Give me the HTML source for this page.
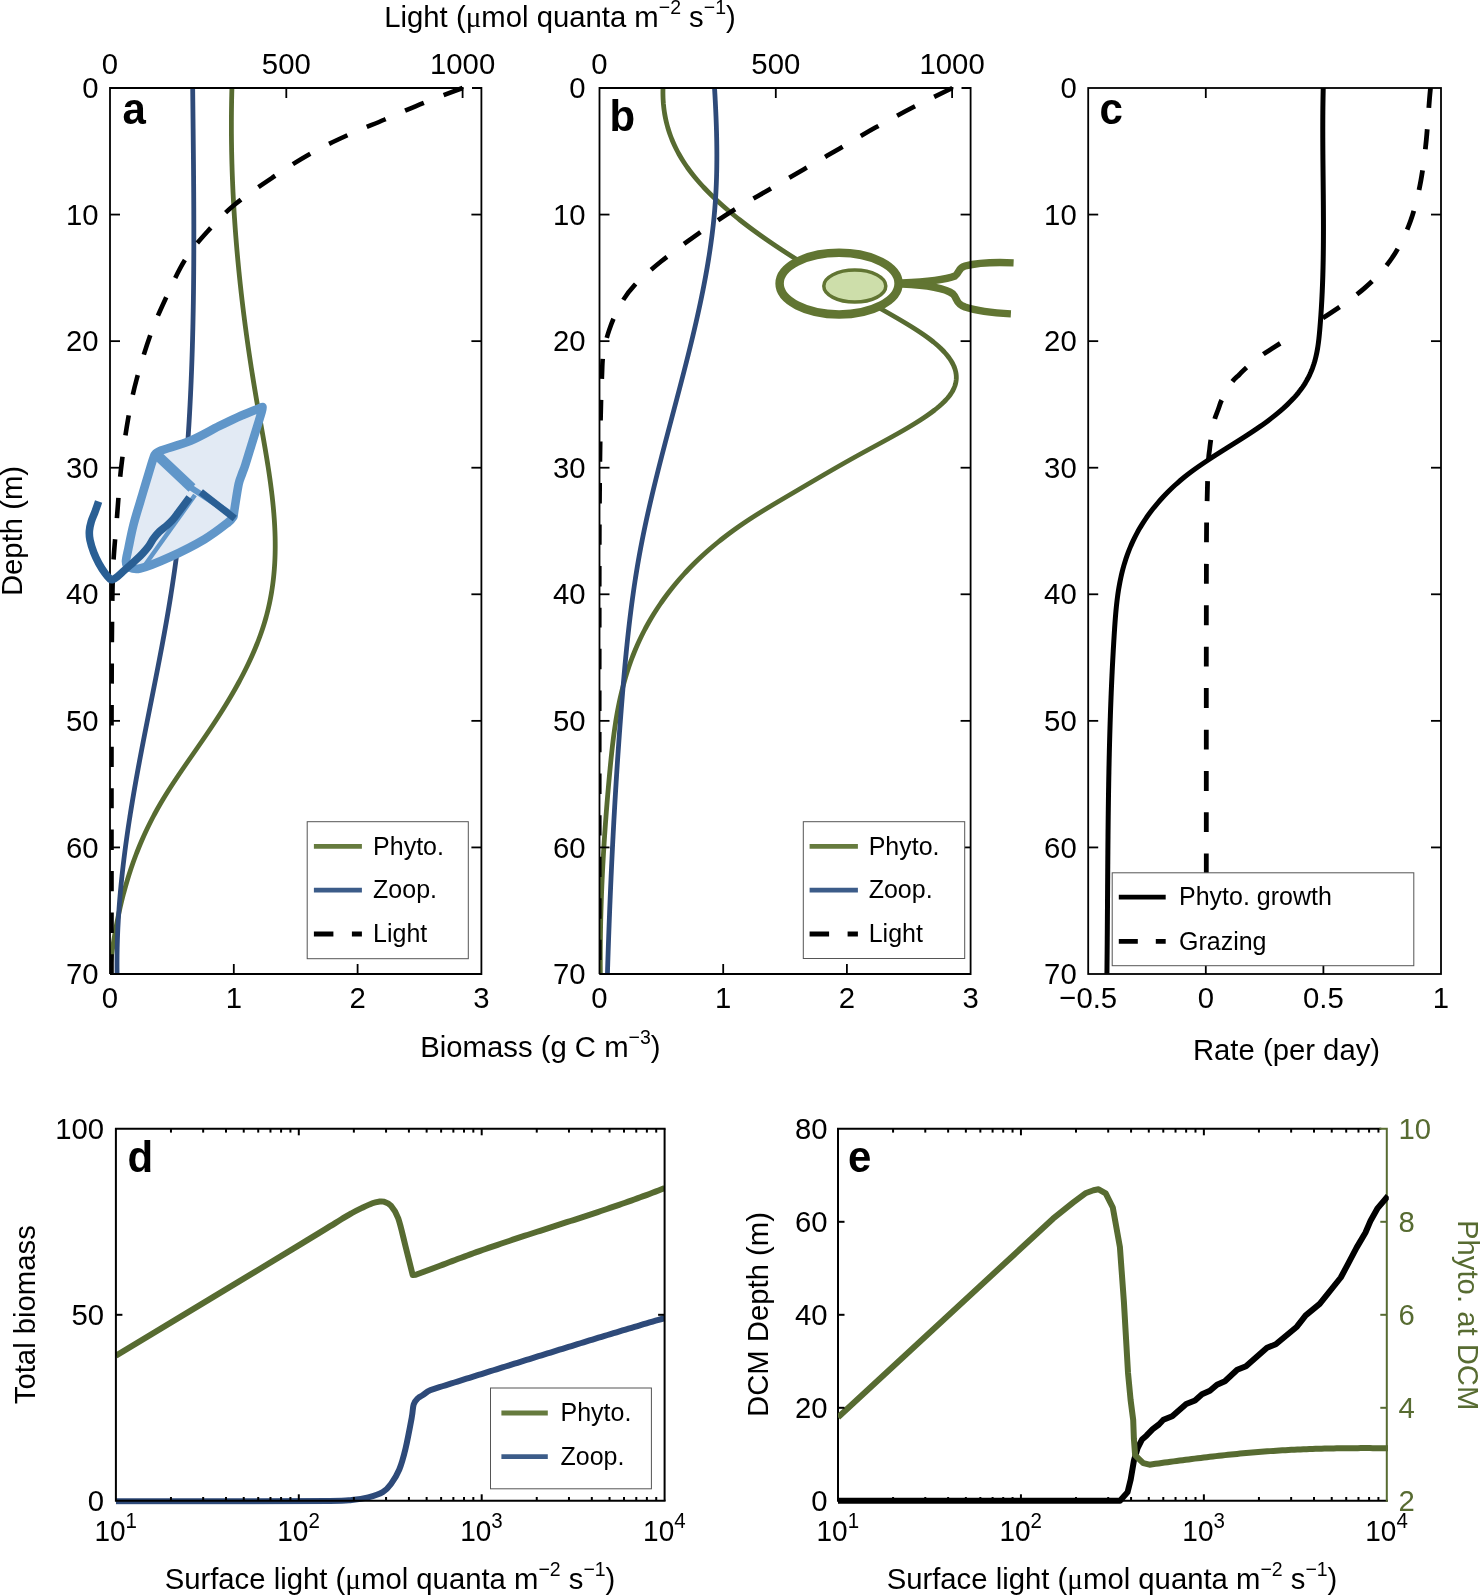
<!DOCTYPE html><html><head><meta charset="utf-8"><style>html,body{margin:0;padding:0;background:#fff;width:1480px;height:1596px;overflow:hidden}svg{display:block;will-change:transform}</style></head><body><svg width="1480" height="1596" viewBox="0 0 1480 1596" font-family="Liberation Sans, sans-serif">
<rect width="1480" height="1596" fill="#fff"/>
<defs>
<clipPath id="ca"><rect x="110.0" y="85.0" width="371.4" height="889.0"/></clipPath>
<clipPath id="cb"><rect x="599.5" y="85.0" width="371.1" height="889.0"/></clipPath>
<clipPath id="cc"><rect x="1088.2" y="85.0" width="352.79999999999995" height="889.0"/></clipPath>
</defs>
<g clip-path="url(#ca)">
<path d="M231.92,88.00 L231.87,90.00 L231.81,92.00 L231.76,94.00 L231.72,96.00 L231.67,98.00 L231.63,100.00 L231.59,102.00 L231.56,104.00 L231.53,106.00 L231.50,108.00 L231.48,110.00 L231.45,112.00 L231.44,114.00 L231.42,116.00 L231.41,118.00 L231.40,120.00 L231.39,122.00 L231.39,124.00 L231.39,126.00 L231.39,128.00 L231.39,130.00 L231.40,132.00 L231.41,134.00 L231.43,136.00 L231.45,138.00 L231.47,140.00 L231.49,142.00 L231.52,144.00 L231.55,146.00 L231.58,148.00 L231.61,150.00 L231.65,152.00 L231.69,154.00 L231.74,156.00 L231.78,158.00 L231.83,160.00 L231.88,162.00 L231.94,164.00 L232.00,166.00 L232.06,168.00 L232.12,170.00 L232.19,172.00 L232.26,174.00 L232.33,176.00 L232.41,178.00 L232.48,180.00 L232.57,182.00 L232.65,184.00 L232.74,186.00 L232.82,188.00 L232.92,190.00 L233.01,192.00 L233.11,194.00 L233.21,196.00 L233.31,198.00 L233.42,200.00 L233.53,202.00 L233.64,204.00 L233.75,206.00 L233.87,208.00 L233.99,210.00 L234.11,212.00 L234.24,214.00 L234.36,216.00 L234.49,218.00 L234.63,220.00 L234.76,222.00 L234.90,224.00 L235.04,226.00 L235.18,228.00 L235.33,230.00 L235.48,232.00 L235.63,234.00 L235.78,236.00 L235.94,238.00 L236.10,240.00 L236.26,242.00 L236.43,244.00 L236.59,246.00 L236.76,248.00 L236.93,250.00 L237.11,252.00 L237.29,254.00 L237.47,256.00 L237.65,258.00 L237.83,260.00 L238.02,262.00 L238.21,264.00 L238.40,266.00 L238.60,268.00 L238.79,270.00 L238.99,272.00 L239.20,274.00 L239.40,276.00 L239.61,278.00 L239.82,280.00 L240.03,282.00 L240.24,284.00 L240.46,286.00 L240.68,288.00 L240.90,290.00 L241.12,292.00 L241.35,294.00 L241.58,296.00 L241.81,298.00 L242.04,300.00 L242.28,302.00 L242.52,304.00 L242.76,306.00 L243.00,308.00 L243.25,310.00 L243.49,312.00 L243.74,314.00 L244.00,316.00 L244.25,318.00 L244.51,320.00 L244.77,322.00 L245.03,324.00 L245.29,326.00 L245.56,328.00 L245.83,330.00 L246.10,332.00 L246.37,334.00 L246.65,336.00 L246.92,338.00 L247.20,340.00 L247.48,342.00 L247.77,344.00 L248.05,346.00 L248.34,348.00 L248.63,350.00 L248.93,352.00 L249.22,354.00 L249.52,356.00 L249.82,358.00 L250.12,360.00 L250.42,362.00 L250.73,364.00 L251.03,366.00 L251.34,368.00 L251.66,370.00 L251.97,372.00 L252.29,374.00 L252.61,376.00 L252.93,378.00 L253.25,380.00 L253.57,382.00 L253.90,384.00 L254.23,386.00 L254.56,388.00 L254.89,390.00 L255.23,392.00 L255.56,394.00 L255.90,396.00 L256.24,398.00 L256.58,400.00 L256.93,402.00 L257.28,404.00 L257.62,406.00 L257.98,408.00 L258.33,410.00 L258.68,412.00 L259.03,414.00 L259.39,416.00 L259.74,418.00 L260.10,420.00 L260.46,422.00 L260.81,424.00 L261.17,426.00 L261.52,428.00 L261.88,430.00 L262.23,432.00 L262.59,434.00 L262.94,436.00 L263.29,438.00 L263.64,440.00 L263.99,442.00 L264.34,444.00 L264.68,446.00 L265.03,448.00 L265.37,450.00 L265.70,452.00 L266.04,454.00 L266.37,456.00 L266.70,458.00 L267.02,460.00 L267.35,462.00 L267.67,464.00 L267.98,466.00 L268.29,468.00 L268.60,470.00 L268.90,472.00 L269.20,474.00 L269.49,476.00 L269.78,478.00 L270.06,480.00 L270.33,482.00 L270.61,484.00 L270.87,486.00 L271.13,488.00 L271.38,490.00 L271.63,492.00 L271.87,494.00 L272.11,496.00 L272.33,498.00 L272.55,500.00 L272.77,502.00 L272.97,504.00 L273.17,506.00 L273.36,508.00 L273.54,510.00 L273.71,512.00 L273.88,514.00 L274.03,516.00 L274.18,518.00 L274.32,520.00 L274.45,522.00 L274.57,524.00 L274.68,526.00 L274.78,528.00 L274.87,530.00 L274.95,532.00 L275.02,534.00 L275.08,536.00 L275.13,538.00 L275.16,540.00 L275.19,542.00 L275.20,544.00 L275.21,546.00 L275.20,548.00 L275.18,550.00 L275.14,552.00 L275.10,554.00 L275.04,556.00 L274.97,558.00 L274.89,560.00 L274.79,562.00 L274.68,564.00 L274.55,566.00 L274.41,568.00 L274.26,570.00 L274.09,572.00 L273.91,574.00 L273.72,576.00 L273.51,578.00 L273.28,580.00 L273.04,582.00 L272.78,584.00 L272.51,586.00 L272.22,588.00 L271.92,590.00 L271.59,592.00 L271.26,594.00 L270.90,596.00 L270.53,598.00 L270.14,600.00 L269.74,602.00 L269.32,604.00 L268.87,606.00 L268.42,608.00 L267.94,610.00 L267.44,612.00 L266.93,614.00 L266.40,616.00 L265.85,618.00 L265.28,620.00 L264.69,622.00 L264.08,624.00 L263.45,626.00 L262.80,628.00 L262.14,630.00 L261.45,632.00 L260.75,634.00 L260.03,636.00 L259.29,638.00 L258.54,640.00 L257.77,642.00 L256.98,644.00 L256.17,646.00 L255.35,648.00 L254.51,650.00 L253.65,652.00 L252.78,654.00 L251.89,656.00 L250.99,658.00 L250.07,660.00 L249.13,662.00 L248.18,664.00 L247.22,666.00 L246.24,668.00 L245.24,670.00 L244.23,672.00 L243.21,674.00 L242.17,676.00 L241.12,678.00 L240.06,680.00 L238.98,682.00 L237.89,684.00 L236.78,686.00 L235.67,688.00 L234.54,690.00 L233.39,692.00 L232.24,694.00 L231.07,696.00 L229.89,698.00 L228.70,700.00 L227.50,702.00 L226.29,704.00 L225.06,706.00 L223.82,708.00 L222.58,710.00 L221.32,712.00 L220.05,714.00 L218.77,716.00 L217.48,718.00 L216.18,720.00 L214.87,722.00 L213.56,724.00 L212.23,726.00 L210.90,728.00 L209.56,730.00 L208.21,732.00 L206.86,734.00 L205.50,736.00 L204.13,738.00 L202.76,740.00 L201.38,742.00 L200.00,744.00 L198.62,746.00 L197.23,748.00 L195.85,750.00 L194.46,752.00 L193.07,754.00 L191.68,756.00 L190.29,758.00 L188.90,760.00 L187.52,762.00 L186.14,764.00 L184.76,766.00 L183.39,768.00 L182.02,770.00 L180.66,772.00 L179.30,774.00 L177.96,776.00 L176.62,778.00 L175.29,780.00 L173.96,782.00 L172.65,784.00 L171.35,786.00 L170.06,788.00 L168.78,790.00 L167.52,792.00 L166.27,794.00 L165.03,796.00 L163.81,798.00 L162.60,800.00 L161.41,802.00 L160.24,804.00 L159.08,806.00 L157.94,808.00 L156.82,810.00 L155.72,812.00 L154.63,814.00 L153.57,816.00 L152.51,818.00 L151.48,820.00 L150.46,822.00 L149.46,824.00 L148.47,826.00 L147.50,828.00 L146.54,830.00 L145.61,832.00 L144.68,834.00 L143.77,836.00 L142.88,838.00 L142.00,840.00 L141.14,842.00 L140.29,844.00 L139.46,846.00 L138.64,848.00 L137.84,850.00 L137.05,852.00 L136.27,854.00 L135.51,856.00 L134.76,858.00 L134.02,860.00 L133.30,862.00 L132.59,864.00 L131.90,866.00 L131.21,868.00 L130.54,870.00 L129.89,872.00 L129.24,874.00 L128.61,876.00 L127.99,878.00 L127.38,880.00 L126.78,882.00 L126.20,884.00 L125.62,886.00 L125.06,888.00 L124.51,890.00 L123.97,892.00 L123.44,894.00 L122.92,896.00 L122.41,898.00 L121.91,900.00 L121.42,902.00 L120.94,904.00 L120.47,906.00 L120.01,908.00 L119.57,910.00 L119.13,912.00 L118.70,914.00 L118.27,916.00 L117.86,918.00 L117.46,920.00 L117.06,922.00 L116.68,924.00 L116.30,926.00 L115.93,928.00 L115.56,930.00 L115.21,932.00 L114.86,934.00 L114.52,936.00 L114.19,938.00 L113.87,940.00 L113.55,942.00 L113.24,944.00 L112.93,946.00 L112.64,948.00 L112.34,950.00 L112.06,952.00 L111.78,954.00 L111.51,956.00 L111.24,958.00 L110.98,960.00 L110.72,962.00 L110.47,964.00 L110.22,966.00 L109.98,968.00 L109.75,970.00 L109.52,972.00 L109.29,974.00" fill="none" stroke="#576b31" stroke-width="4.8" stroke-linejoin="round" />
<path d="M192.67,88.00 L192.70,90.00 L192.72,92.00 L192.74,94.00 L192.76,96.00 L192.78,98.00 L192.80,100.00 L192.83,102.00 L192.85,104.00 L192.87,106.00 L192.89,108.00 L192.92,110.00 L192.94,112.00 L192.96,114.00 L192.98,116.00 L193.00,118.00 L193.03,120.00 L193.05,122.00 L193.07,124.00 L193.09,126.00 L193.11,128.00 L193.14,130.00 L193.16,132.00 L193.18,134.00 L193.20,136.00 L193.22,138.00 L193.24,140.00 L193.26,142.00 L193.28,144.00 L193.30,146.00 L193.32,148.00 L193.34,150.00 L193.36,152.00 L193.38,154.00 L193.40,156.00 L193.42,158.00 L193.44,160.00 L193.46,162.00 L193.48,164.00 L193.50,166.00 L193.51,168.00 L193.53,170.00 L193.55,172.00 L193.56,174.00 L193.58,176.00 L193.60,178.00 L193.61,180.00 L193.63,182.00 L193.64,184.00 L193.65,186.00 L193.67,188.00 L193.68,190.00 L193.69,192.00 L193.71,194.00 L193.72,196.00 L193.73,198.00 L193.74,200.00 L193.75,202.00 L193.76,204.00 L193.77,206.00 L193.78,208.00 L193.79,210.00 L193.79,212.00 L193.80,214.00 L193.81,216.00 L193.81,218.00 L193.82,220.00 L193.82,222.00 L193.83,224.00 L193.83,226.00 L193.83,228.00 L193.83,230.00 L193.83,232.00 L193.84,234.00 L193.83,236.00 L193.83,238.00 L193.83,240.00 L193.83,242.00 L193.83,244.00 L193.82,246.00 L193.82,248.00 L193.81,250.00 L193.81,252.00 L193.80,254.00 L193.79,256.00 L193.78,258.00 L193.77,260.00 L193.76,262.00 L193.75,264.00 L193.74,266.00 L193.72,268.00 L193.71,270.00 L193.69,272.00 L193.68,274.00 L193.66,276.00 L193.64,278.00 L193.62,280.00 L193.60,282.00 L193.58,284.00 L193.56,286.00 L193.54,288.00 L193.51,290.00 L193.49,292.00 L193.46,294.00 L193.43,296.00 L193.41,298.00 L193.38,300.00 L193.35,302.00 L193.32,304.00 L193.28,306.00 L193.25,308.00 L193.21,310.00 L193.18,312.00 L193.14,314.00 L193.10,316.00 L193.06,318.00 L193.02,320.00 L192.98,322.00 L192.94,324.00 L192.89,326.00 L192.85,328.00 L192.80,330.00 L192.75,332.00 L192.70,334.00 L192.65,336.00 L192.60,338.00 L192.55,340.00 L192.49,342.00 L192.43,344.00 L192.38,346.00 L192.32,348.00 L192.26,350.00 L192.20,352.00 L192.13,354.00 L192.07,356.00 L192.00,358.00 L191.94,360.00 L191.87,362.00 L191.80,364.00 L191.72,366.00 L191.65,368.00 L191.58,370.00 L191.50,372.00 L191.42,374.00 L191.34,376.00 L191.26,378.00 L191.18,380.00 L191.10,382.00 L191.01,384.00 L190.93,386.00 L190.84,388.00 L190.75,390.00 L190.65,392.00 L190.56,394.00 L190.47,396.00 L190.37,398.00 L190.27,400.00 L190.17,402.00 L190.07,404.00 L189.97,406.00 L189.86,408.00 L189.75,410.00 L189.65,412.00 L189.54,414.00 L189.42,416.00 L189.31,418.00 L189.19,420.00 L189.08,422.00 L188.96,424.00 L188.84,426.00 L188.71,428.00 L188.59,430.00 L188.46,432.00 L188.33,434.00 L188.20,436.00 L188.07,438.00 L187.94,440.00 L187.80,442.00 L187.66,444.00 L187.52,446.00 L187.38,448.00 L187.24,450.00 L187.09,452.00 L186.95,454.00 L186.80,456.00 L186.64,458.00 L186.49,460.00 L186.34,462.00 L186.18,464.00 L186.02,466.00 L185.86,468.00 L185.69,470.00 L185.53,472.00 L185.36,474.00 L185.19,476.00 L185.02,478.00 L184.84,480.00 L184.67,482.00 L184.49,484.00 L184.31,486.00 L184.12,488.00 L183.94,490.00 L183.75,492.00 L183.56,494.00 L183.37,496.00 L183.18,498.00 L182.98,500.00 L182.78,502.00 L182.58,504.00 L182.38,506.00 L182.17,508.00 L181.96,510.00 L181.75,512.00 L181.54,514.00 L181.33,516.00 L181.11,518.00 L180.89,520.00 L180.67,522.00 L180.45,524.00 L180.22,526.00 L179.99,528.00 L179.76,530.00 L179.53,532.00 L179.29,534.00 L179.05,536.00 L178.81,538.00 L178.57,540.00 L178.32,542.00 L178.07,544.00 L177.82,546.00 L177.57,548.00 L177.31,550.00 L177.05,552.00 L176.79,554.00 L176.53,556.00 L176.26,558.00 L175.99,560.00 L175.72,562.00 L175.45,564.00 L175.17,566.00 L174.89,568.00 L174.61,570.00 L174.33,572.00 L174.04,574.00 L173.75,576.00 L173.46,578.00 L173.16,580.00 L172.86,582.00 L172.56,584.00 L172.26,586.00 L171.95,588.00 L171.64,590.00 L171.33,592.00 L171.02,594.00 L170.70,596.00 L170.38,598.00 L170.06,600.00 L169.73,602.00 L169.40,604.00 L169.07,606.00 L168.74,608.00 L168.40,610.00 L168.06,612.00 L167.72,614.00 L167.37,616.00 L167.03,618.00 L166.68,620.00 L166.33,622.00 L165.97,624.00 L165.62,626.00 L165.26,628.00 L164.90,630.00 L164.54,632.00 L164.18,634.00 L163.81,636.00 L163.44,638.00 L163.07,640.00 L162.70,642.00 L162.33,644.00 L161.96,646.00 L161.58,648.00 L161.20,650.00 L160.82,652.00 L160.44,654.00 L160.06,656.00 L159.68,658.00 L159.30,660.00 L158.91,662.00 L158.52,664.00 L158.14,666.00 L157.75,668.00 L157.36,670.00 L156.97,672.00 L156.58,674.00 L156.18,676.00 L155.79,678.00 L155.40,680.00 L155.00,682.00 L154.61,684.00 L154.21,686.00 L153.82,688.00 L153.42,690.00 L153.03,692.00 L152.63,694.00 L152.23,696.00 L151.83,698.00 L151.44,700.00 L151.04,702.00 L150.64,704.00 L150.24,706.00 L149.85,708.00 L149.45,710.00 L149.05,712.00 L148.66,714.00 L148.26,716.00 L147.86,718.00 L147.47,720.00 L147.07,722.00 L146.68,724.00 L146.28,726.00 L145.89,728.00 L145.50,730.00 L145.10,732.00 L144.71,734.00 L144.32,736.00 L143.93,738.00 L143.54,740.00 L143.16,742.00 L142.77,744.00 L142.38,746.00 L142.00,748.00 L141.62,750.00 L141.24,752.00 L140.86,754.00 L140.48,756.00 L140.10,758.00 L139.72,760.00 L139.35,762.00 L138.98,764.00 L138.60,766.00 L138.23,768.00 L137.87,770.00 L137.50,772.00 L137.14,774.00 L136.77,776.00 L136.41,778.00 L136.06,780.00 L135.70,782.00 L135.35,784.00 L134.99,786.00 L134.64,788.00 L134.30,790.00 L133.95,792.00 L133.61,794.00 L133.27,796.00 L132.93,798.00 L132.59,800.00 L132.26,802.00 L131.93,804.00 L131.60,806.00 L131.27,808.00 L130.95,810.00 L130.62,812.00 L130.31,814.00 L129.99,816.00 L129.68,818.00 L129.37,820.00 L129.06,822.00 L128.75,824.00 L128.45,826.00 L128.15,828.00 L127.86,830.00 L127.57,832.00 L127.28,834.00 L126.99,836.00 L126.71,838.00 L126.43,840.00 L126.15,842.00 L125.87,844.00 L125.60,846.00 L125.34,848.00 L125.07,850.00 L124.81,852.00 L124.56,854.00 L124.30,856.00 L124.05,858.00 L123.81,860.00 L123.57,862.00 L123.33,864.00 L123.09,866.00 L122.86,868.00 L122.63,870.00 L122.41,872.00 L122.19,874.00 L121.98,876.00 L121.76,878.00 L121.56,880.00 L121.35,882.00 L121.15,884.00 L120.96,886.00 L120.77,888.00 L120.58,890.00 L120.40,892.00 L120.22,894.00 L120.04,896.00 L119.87,898.00 L119.71,900.00 L119.55,902.00 L119.39,904.00 L119.24,906.00 L119.09,908.00 L118.95,910.00 L118.81,912.00 L118.68,914.00 L118.55,916.00 L118.43,918.00 L118.31,920.00 L118.20,922.00 L118.09,924.00 L117.98,926.00 L117.88,928.00 L117.79,930.00 L117.70,932.00 L117.62,934.00 L117.54,936.00 L117.47,938.00 L117.40,940.00 L117.34,942.00 L117.28,944.00 L117.23,946.00 L117.18,948.00 L117.14,950.00 L117.10,952.00 L117.07,954.00 L117.05,956.00 L117.03,958.00 L117.02,960.00 L117.01,962.00 L117.01,964.00 L117.01,966.00 L117.02,968.00 L117.04,970.00 L117.06,972.00 L117.09,974.00" fill="none" stroke="#2e4a79" stroke-width="4.8" stroke-linejoin="round" />
<path d="M462.60,88.00 C456.22,90.43 437.27,97.35 424.30,102.60 C411.33,107.85 397.52,114.10 384.80,119.50 C372.08,124.90 360.22,129.42 348.00,135.00 C335.78,140.58 323.70,146.17 311.50,153.00 C299.30,159.83 287.48,167.50 274.80,176.00 C262.12,184.50 246.70,194.67 235.40,204.00 C224.10,213.33 215.47,222.58 207.00,232.00 C198.53,241.42 191.60,249.17 184.60,260.50 C177.60,271.83 170.63,287.78 165.00,300.00 C159.37,312.22 155.52,320.63 150.80,333.80 C146.08,346.97 140.47,364.90 136.70,379.00 C132.93,393.10 130.82,403.40 128.20,418.40 C125.58,433.40 122.87,452.57 121.00,469.00 C119.13,485.43 118.23,502.00 117.00,517.00 C115.77,532.00 114.35,546.83 113.60,559.00 C112.85,571.17 112.80,574.83 112.50,590.00 C112.20,605.17 111.97,623.33 111.80,650.00 C111.63,676.67 111.55,716.67 111.50,750.00 C111.45,783.33 111.50,812.72 111.50,850.00 C111.50,887.28 111.50,953.08 111.50,973.70" fill="none" stroke="#000" stroke-width="4.6" stroke-linejoin="round" stroke-dasharray="20.3 21.2" />
</g>
<g clip-path="url(#cb)">
<path d="M663.00,88.00 L662.95,90.00 L662.93,92.00 L662.94,94.00 L662.98,96.00 L663.04,98.00 L663.14,100.00 L663.27,102.00 L663.42,104.00 L663.62,106.00 L663.84,108.00 L664.09,110.00 L664.38,112.00 L664.70,114.00 L665.06,116.00 L665.45,118.00 L665.87,120.00 L666.33,122.00 L666.83,124.00 L667.36,126.00 L667.93,128.00 L668.54,130.00 L669.18,132.00 L669.86,134.00 L670.58,136.00 L671.35,138.00 L672.14,140.00 L672.98,142.00 L673.87,144.00 L674.79,146.00 L675.75,148.00 L676.75,150.00 L677.80,152.00 L678.89,154.00 L680.03,156.00 L681.20,158.00 L682.42,160.00 L683.69,162.00 L685.00,164.00 L686.36,166.00 L687.76,168.00 L689.21,170.00 L690.71,172.00 L692.26,174.00 L693.85,176.00 L695.49,178.00 L697.17,180.00 L698.90,182.00 L700.68,184.00 L702.50,186.00 L704.36,188.00 L706.27,190.00 L708.23,192.00 L710.23,194.00 L712.27,196.00 L714.35,198.00 L716.47,200.00 L718.64,202.00 L720.84,204.00 L723.09,206.00 L725.38,208.00 L727.71,210.00 L730.07,212.00 L732.48,214.00 L734.92,216.00 L737.40,218.00 L739.92,220.00 L742.48,222.00 L745.07,224.00 L747.70,226.00 L750.37,228.00 L753.07,230.00 L755.81,232.00 L758.58,234.00 L761.38,236.00 L764.22,238.00 L767.09,240.00 L769.99,242.00 L772.93,244.00 L775.90,246.00 L778.90,248.00 L781.93,250.00 L784.99,252.00 L788.08,254.00 L791.20,256.00 L794.35,258.00 L797.53,260.00 L800.74,262.00 L803.97,264.00 L807.23,266.00 L810.51,268.00 L813.82,270.00 L817.14,272.00 L820.49,274.00 L823.86,276.00 L827.25,278.00 L830.65,280.00 L834.07,282.00 L837.50,284.00 L840.95,286.00 L844.41,288.00 L847.88,290.00 L851.36,292.00 L854.85,294.00 L858.35,296.00 L861.85,298.00 L865.36,300.00 L868.87,302.00 L872.38,304.00 L875.90,306.00 L879.42,308.00 L882.94,310.00 L886.45,312.00 L889.95,314.00 L893.43,316.00 L896.89,318.00 L900.31,320.00 L903.69,322.00 L907.02,324.00 L910.29,326.00 L913.50,328.00 L916.63,330.00 L919.68,332.00 L922.65,334.00 L925.52,336.00 L928.28,338.00 L930.93,340.00 L933.47,342.00 L935.88,344.00 L938.17,346.00 L940.34,348.00 L942.37,350.00 L944.28,352.00 L946.05,354.00 L947.69,356.00 L949.20,358.00 L950.57,360.00 L951.79,362.00 L952.88,364.00 L953.82,366.00 L954.62,368.00 L955.26,370.00 L955.76,372.00 L956.10,374.00 L956.29,376.00 L956.33,378.00 L956.20,380.00 L955.92,382.00 L955.47,384.00 L954.86,386.00 L954.08,388.00 L953.13,390.00 L952.01,392.00 L950.72,394.00 L949.26,396.00 L947.62,398.00 L945.83,400.00 L943.87,402.00 L941.77,404.00 L939.53,406.00 L937.15,408.00 L934.65,410.00 L932.02,412.00 L929.27,414.00 L926.42,416.00 L923.46,418.00 L920.41,420.00 L917.27,422.00 L914.05,424.00 L910.75,426.00 L907.39,428.00 L903.96,430.00 L900.48,432.00 L896.95,434.00 L893.38,436.00 L889.77,438.00 L886.13,440.00 L882.48,442.00 L878.81,444.00 L875.13,446.00 L871.44,448.00 L867.77,450.00 L864.10,452.00 L860.46,454.00 L856.83,456.00 L853.24,458.00 L849.66,460.00 L846.11,462.00 L842.59,464.00 L839.08,466.00 L835.58,468.00 L832.11,470.00 L828.65,472.00 L825.20,474.00 L821.77,476.00 L818.34,478.00 L814.93,480.00 L811.52,482.00 L808.12,484.00 L804.72,486.00 L801.32,488.00 L797.93,490.00 L794.54,492.00 L791.14,494.00 L787.74,496.00 L784.35,498.00 L780.95,500.00 L777.57,502.00 L774.20,504.00 L770.86,506.00 L767.54,508.00 L764.25,510.00 L760.99,512.00 L757.78,514.00 L754.61,516.00 L751.50,518.00 L748.43,520.00 L745.43,522.00 L742.48,524.00 L739.58,526.00 L736.73,528.00 L733.94,530.00 L731.19,532.00 L728.50,534.00 L725.86,536.00 L723.26,538.00 L720.71,540.00 L718.21,542.00 L715.76,544.00 L713.36,546.00 L710.99,548.00 L708.68,550.00 L706.40,552.00 L704.17,554.00 L701.98,556.00 L699.84,558.00 L697.73,560.00 L695.66,562.00 L693.64,564.00 L691.65,566.00 L689.70,568.00 L687.79,570.00 L685.91,572.00 L684.07,574.00 L682.26,576.00 L680.49,578.00 L678.75,580.00 L677.04,582.00 L675.37,584.00 L673.73,586.00 L672.12,588.00 L670.53,590.00 L668.98,592.00 L667.46,594.00 L665.96,596.00 L664.49,598.00 L663.05,600.00 L661.64,602.00 L660.25,604.00 L658.90,606.00 L657.56,608.00 L656.26,610.00 L654.98,612.00 L653.72,614.00 L652.50,616.00 L651.29,618.00 L650.11,620.00 L648.96,622.00 L647.83,624.00 L646.72,626.00 L645.64,628.00 L644.58,630.00 L643.54,632.00 L642.53,634.00 L641.54,636.00 L640.57,638.00 L639.62,640.00 L638.69,642.00 L637.79,644.00 L636.90,646.00 L636.04,648.00 L635.20,650.00 L634.37,652.00 L633.57,654.00 L632.78,656.00 L632.02,658.00 L631.27,660.00 L630.54,662.00 L629.83,664.00 L629.13,666.00 L628.46,668.00 L627.80,670.00 L627.16,672.00 L626.53,674.00 L625.92,676.00 L625.33,678.00 L624.75,680.00 L624.19,682.00 L623.64,684.00 L623.11,686.00 L622.59,688.00 L622.08,690.00 L621.59,692.00 L621.12,694.00 L620.65,696.00 L620.20,698.00 L619.76,700.00 L619.34,702.00 L618.92,704.00 L618.52,706.00 L618.13,708.00 L617.75,710.00 L617.38,712.00 L617.02,714.00 L616.67,716.00 L616.33,718.00 L616.00,720.00 L615.68,722.00 L615.37,724.00 L615.07,726.00 L614.77,728.00 L614.49,730.00 L614.21,732.00 L613.94,734.00 L613.67,736.00 L613.41,738.00 L613.16,740.00 L612.92,742.00 L612.68,744.00 L612.44,746.00 L612.22,748.00 L611.99,750.00 L611.77,752.00 L611.56,754.00 L611.35,756.00 L611.14,758.00 L610.94,760.00 L610.74,762.00 L610.54,764.00 L610.34,766.00 L610.15,768.00 L609.96,770.00 L609.77,772.00 L609.58,774.00 L609.40,776.00 L609.21,778.00 L609.03,780.00 L608.85,782.00 L608.67,784.00 L608.49,786.00 L608.31,788.00 L608.14,790.00 L607.97,792.00 L607.79,794.00 L607.62,796.00 L607.46,798.00 L607.29,800.00 L607.12,802.00 L606.96,804.00 L606.80,806.00 L606.64,808.00 L606.48,810.00 L606.32,812.00 L606.17,814.00 L606.02,816.00 L605.87,818.00 L605.72,820.00 L605.57,822.00 L605.42,824.00 L605.28,826.00 L605.14,828.00 L605.00,830.00 L604.86,832.00 L604.72,834.00 L604.59,836.00 L604.45,838.00 L604.32,840.00 L604.19,842.00 L604.07,844.00 L603.94,846.00 L603.82,848.00 L603.70,850.00 L603.58,852.00 L603.46,854.00 L603.35,856.00 L603.23,858.00 L603.12,860.00 L603.01,862.00 L602.90,864.00 L602.80,866.00 L602.69,868.00 L602.59,870.00 L602.49,872.00 L602.39,874.00 L602.30,876.00 L602.21,878.00 L602.11,880.00 L602.03,882.00 L601.94,884.00 L601.85,886.00 L601.77,888.00 L601.69,890.00 L601.61,892.00 L601.53,894.00 L601.46,896.00 L601.39,898.00 L601.32,900.00 L601.25,902.00 L601.18,904.00 L601.12,906.00 L601.06,908.00 L601.00,910.00 L600.94,912.00 L600.89,914.00 L600.83,916.00 L600.78,918.00 L600.74,920.00 L600.69,922.00 L600.65,924.00 L600.61,926.00 L600.57,928.00 L600.53,930.00 L600.50,932.00 L600.46,934.00 L600.44,936.00 L600.41,938.00 L600.38,940.00 L600.36,942.00 L600.34,944.00 L600.32,946.00 L600.31,948.00 L600.29,950.00 L600.28,952.00 L600.28,954.00 L600.27,956.00 L600.27,958.00 L600.27,960.00 L600.27,962.00 L600.27,964.00 L600.28,966.00 L600.29,968.00 L600.30,970.00 L600.31,972.00 L600.33,974.00" fill="none" stroke="#576b31" stroke-width="4.8" stroke-linejoin="round" />
<path d="M714.54,88.00 L714.66,90.00 L714.77,92.00 L714.89,94.00 L715.00,96.00 L715.11,98.00 L715.21,100.00 L715.32,102.00 L715.42,104.00 L715.52,106.00 L715.61,108.00 L715.71,110.00 L715.80,112.00 L715.88,114.00 L715.97,116.00 L716.05,118.00 L716.13,120.00 L716.20,122.00 L716.27,124.00 L716.34,126.00 L716.40,128.00 L716.46,130.00 L716.52,132.00 L716.57,134.00 L716.61,136.00 L716.66,138.00 L716.70,140.00 L716.73,142.00 L716.76,144.00 L716.79,146.00 L716.81,148.00 L716.83,150.00 L716.84,152.00 L716.85,154.00 L716.85,156.00 L716.84,158.00 L716.84,160.00 L716.82,162.00 L716.80,164.00 L716.78,166.00 L716.75,168.00 L716.72,170.00 L716.68,172.00 L716.63,174.00 L716.58,176.00 L716.52,178.00 L716.45,180.00 L716.38,182.00 L716.31,184.00 L716.22,186.00 L716.13,188.00 L716.04,190.00 L715.93,192.00 L715.82,194.00 L715.71,196.00 L715.59,198.00 L715.46,200.00 L715.32,202.00 L715.17,204.00 L715.02,206.00 L714.86,208.00 L714.70,210.00 L714.52,212.00 L714.34,214.00 L714.16,216.00 L713.96,218.00 L713.76,220.00 L713.56,222.00 L713.34,224.00 L713.12,226.00 L712.89,228.00 L712.66,230.00 L712.42,232.00 L712.17,234.00 L711.92,236.00 L711.66,238.00 L711.39,240.00 L711.12,242.00 L710.85,244.00 L710.56,246.00 L710.27,248.00 L709.98,250.00 L709.68,252.00 L709.37,254.00 L709.06,256.00 L708.74,258.00 L708.42,260.00 L708.09,262.00 L707.76,264.00 L707.42,266.00 L707.08,268.00 L706.73,270.00 L706.37,272.00 L706.01,274.00 L705.65,276.00 L705.28,278.00 L704.91,280.00 L704.53,282.00 L704.15,284.00 L703.76,286.00 L703.37,288.00 L702.98,290.00 L702.58,292.00 L702.17,294.00 L701.76,296.00 L701.35,298.00 L700.93,300.00 L700.51,302.00 L700.09,304.00 L699.66,306.00 L699.23,308.00 L698.79,310.00 L698.35,312.00 L697.91,314.00 L697.46,316.00 L697.01,318.00 L696.56,320.00 L696.11,322.00 L695.65,324.00 L695.18,326.00 L694.72,328.00 L694.25,330.00 L693.78,332.00 L693.30,334.00 L692.83,336.00 L692.35,338.00 L691.86,340.00 L691.38,342.00 L690.89,344.00 L690.40,346.00 L689.91,348.00 L689.42,350.00 L688.92,352.00 L688.42,354.00 L687.92,356.00 L687.42,358.00 L686.91,360.00 L686.41,362.00 L685.90,364.00 L685.39,366.00 L684.87,368.00 L684.36,370.00 L683.85,372.00 L683.33,374.00 L682.81,376.00 L682.29,378.00 L681.77,380.00 L681.25,382.00 L680.73,384.00 L680.21,386.00 L679.68,388.00 L679.16,390.00 L678.63,392.00 L678.10,394.00 L677.58,396.00 L677.05,398.00 L676.52,400.00 L675.99,402.00 L675.46,404.00 L674.93,406.00 L674.40,408.00 L673.87,410.00 L673.34,412.00 L672.81,414.00 L672.28,416.00 L671.75,418.00 L671.22,420.00 L670.69,422.00 L670.16,424.00 L669.63,426.00 L669.10,428.00 L668.57,430.00 L668.04,432.00 L667.52,434.00 L666.99,436.00 L666.46,438.00 L665.94,440.00 L665.41,442.00 L664.89,444.00 L664.37,446.00 L663.85,448.00 L663.33,450.00 L662.81,452.00 L662.29,454.00 L661.77,456.00 L661.26,458.00 L660.75,460.00 L660.23,462.00 L659.72,464.00 L659.21,466.00 L658.71,468.00 L658.20,470.00 L657.70,472.00 L657.20,474.00 L656.70,476.00 L656.20,478.00 L655.71,480.00 L655.22,482.00 L654.73,484.00 L654.24,486.00 L653.75,488.00 L653.27,490.00 L652.79,492.00 L652.31,494.00 L651.84,496.00 L651.37,498.00 L650.90,500.00 L650.43,502.00 L649.97,504.00 L649.51,506.00 L649.05,508.00 L648.59,510.00 L648.14,512.00 L647.70,514.00 L647.25,516.00 L646.81,518.00 L646.37,520.00 L645.94,522.00 L645.51,524.00 L645.08,526.00 L644.66,528.00 L644.24,530.00 L643.83,532.00 L643.42,534.00 L643.01,536.00 L642.61,538.00 L642.21,540.00 L641.82,542.00 L641.43,544.00 L641.04,546.00 L640.66,548.00 L640.29,550.00 L639.92,552.00 L639.55,554.00 L639.19,556.00 L638.83,558.00 L638.48,560.00 L638.13,562.00 L637.78,564.00 L637.44,566.00 L637.11,568.00 L636.78,570.00 L636.45,572.00 L636.13,574.00 L635.81,576.00 L635.49,578.00 L635.18,580.00 L634.88,582.00 L634.57,584.00 L634.27,586.00 L633.98,588.00 L633.69,590.00 L633.40,592.00 L633.12,594.00 L632.84,596.00 L632.56,598.00 L632.29,600.00 L632.02,602.00 L631.75,604.00 L631.49,606.00 L631.23,608.00 L630.97,610.00 L630.72,612.00 L630.47,614.00 L630.22,616.00 L629.98,618.00 L629.74,620.00 L629.50,622.00 L629.26,624.00 L629.03,626.00 L628.80,628.00 L628.58,630.00 L628.35,632.00 L628.13,634.00 L627.91,636.00 L627.70,638.00 L627.48,640.00 L627.27,642.00 L627.06,644.00 L626.86,646.00 L626.65,648.00 L626.45,650.00 L626.25,652.00 L626.06,654.00 L625.86,656.00 L625.67,658.00 L625.48,660.00 L625.29,662.00 L625.10,664.00 L624.91,666.00 L624.73,668.00 L624.55,670.00 L624.37,672.00 L624.19,674.00 L624.01,676.00 L623.84,678.00 L623.66,680.00 L623.49,682.00 L623.32,684.00 L623.15,686.00 L622.98,688.00 L622.82,690.00 L622.65,692.00 L622.49,694.00 L622.32,696.00 L622.16,698.00 L622.00,700.00 L621.84,702.00 L621.68,704.00 L621.52,706.00 L621.36,708.00 L621.20,710.00 L621.05,712.00 L620.89,714.00 L620.74,716.00 L620.59,718.00 L620.43,720.00 L620.28,722.00 L620.13,724.00 L619.98,726.00 L619.83,728.00 L619.69,730.00 L619.54,732.00 L619.39,734.00 L619.25,736.00 L619.11,738.00 L618.96,740.00 L618.82,742.00 L618.68,744.00 L618.54,746.00 L618.40,748.00 L618.26,750.00 L618.12,752.00 L617.98,754.00 L617.85,756.00 L617.71,758.00 L617.58,760.00 L617.44,762.00 L617.31,764.00 L617.18,766.00 L617.05,768.00 L616.92,770.00 L616.79,772.00 L616.66,774.00 L616.53,776.00 L616.41,778.00 L616.28,780.00 L616.15,782.00 L616.03,784.00 L615.91,786.00 L615.78,788.00 L615.66,790.00 L615.54,792.00 L615.42,794.00 L615.30,796.00 L615.18,798.00 L615.06,800.00 L614.94,802.00 L614.83,804.00 L614.71,806.00 L614.60,808.00 L614.48,810.00 L614.37,812.00 L614.26,814.00 L614.14,816.00 L614.03,818.00 L613.92,820.00 L613.81,822.00 L613.70,824.00 L613.60,826.00 L613.49,828.00 L613.38,830.00 L613.28,832.00 L613.17,834.00 L613.07,836.00 L612.96,838.00 L612.86,840.00 L612.76,842.00 L612.66,844.00 L612.55,846.00 L612.45,848.00 L612.36,850.00 L612.26,852.00 L612.16,854.00 L612.06,856.00 L611.96,858.00 L611.87,860.00 L611.77,862.00 L611.68,864.00 L611.58,866.00 L611.49,868.00 L611.40,870.00 L611.31,872.00 L611.22,874.00 L611.12,876.00 L611.03,878.00 L610.95,880.00 L610.86,882.00 L610.77,884.00 L610.68,886.00 L610.60,888.00 L610.51,890.00 L610.42,892.00 L610.34,894.00 L610.25,896.00 L610.17,898.00 L610.09,900.00 L610.01,902.00 L609.92,904.00 L609.84,906.00 L609.76,908.00 L609.68,910.00 L609.60,912.00 L609.53,914.00 L609.45,916.00 L609.37,918.00 L609.29,920.00 L609.22,922.00 L609.14,924.00 L609.07,926.00 L608.99,928.00 L608.92,930.00 L608.85,932.00 L608.77,934.00 L608.70,936.00 L608.63,938.00 L608.56,940.00 L608.49,942.00 L608.42,944.00 L608.35,946.00 L608.28,948.00 L608.21,950.00 L608.14,952.00 L608.08,954.00 L608.01,956.00 L607.94,958.00 L607.88,960.00 L607.81,962.00 L607.75,964.00 L607.69,966.00 L607.62,968.00 L607.56,970.00 L607.50,972.00 L607.43,974.00" fill="none" stroke="#2e4a79" stroke-width="4.8" stroke-linejoin="round" />
<path d="M952.40,88.00 C946.00,91.13 926.83,100.20 914.00,106.80 C901.17,113.40 887.78,120.67 875.40,127.60 C863.02,134.53 851.60,141.47 839.70,148.40 C827.80,155.33 815.88,162.27 804.00,169.20 C792.12,176.13 780.28,183.07 768.40,190.00 C756.52,196.93 744.60,203.37 732.70,210.80 C720.80,218.23 708.90,226.18 697.00,234.60 C685.10,243.02 671.70,252.88 661.30,261.30 C650.90,269.72 641.53,277.67 634.60,285.10 C627.67,292.53 623.92,298.47 619.70,305.90 C615.48,313.33 612.02,321.77 609.30,329.70 C606.58,337.63 604.63,345.57 603.40,353.50 C602.17,361.43 602.37,366.22 601.90,377.30 C601.43,388.38 600.98,399.55 600.60,420.00 C600.22,440.45 599.82,470.00 599.60,500.00 C599.38,530.00 599.35,521.05 599.30,600.00 C599.25,678.95 599.30,911.42 599.30,973.70" fill="none" stroke="#000" stroke-width="4.6" stroke-linejoin="round" stroke-dasharray="20.3 21.2" />
</g>
<g clip-path="url(#cc)">
<path d="M1323.23,88.00 L1323.18,90.00 L1323.14,92.01 L1323.10,94.01 L1323.06,96.02 L1323.02,98.02 L1322.99,100.02 L1322.96,102.03 L1322.93,104.03 L1322.90,106.03 L1322.88,108.04 L1322.86,110.04 L1322.84,112.05 L1322.83,114.05 L1322.81,116.05 L1322.80,118.06 L1322.79,120.06 L1322.79,122.07 L1322.78,124.07 L1322.78,126.07 L1322.77,128.08 L1322.77,130.08 L1322.78,132.08 L1322.78,134.09 L1322.78,136.09 L1322.79,138.10 L1322.80,140.10 L1322.81,142.10 L1322.82,144.11 L1322.83,146.11 L1322.84,148.12 L1322.85,150.12 L1322.87,152.12 L1322.88,154.13 L1322.90,156.13 L1322.91,158.13 L1322.93,160.14 L1322.95,162.14 L1322.97,164.15 L1322.99,166.15 L1323.01,168.15 L1323.03,170.16 L1323.05,172.16 L1323.07,174.17 L1323.09,176.17 L1323.11,178.17 L1323.13,180.18 L1323.15,182.18 L1323.17,184.18 L1323.19,186.19 L1323.21,188.19 L1323.23,190.20 L1323.25,192.20 L1323.27,194.20 L1323.29,196.21 L1323.30,198.21 L1323.32,200.22 L1323.34,202.22 L1323.35,204.22 L1323.37,206.23 L1323.38,208.23 L1323.39,210.23 L1323.40,212.24 L1323.41,214.24 L1323.42,216.25 L1323.43,218.25 L1323.44,220.25 L1323.44,222.26 L1323.45,224.26 L1323.45,226.27 L1323.45,228.27 L1323.45,230.27 L1323.44,232.28 L1323.44,234.28 L1323.43,236.28 L1323.42,238.29 L1323.41,240.29 L1323.40,242.30 L1323.38,244.30 L1323.37,246.30 L1323.35,248.31 L1323.32,250.31 L1323.30,252.32 L1323.27,254.32 L1323.24,256.32 L1323.21,258.33 L1323.18,260.33 L1323.14,262.33 L1323.10,264.34 L1323.05,266.34 L1323.01,268.35 L1322.96,270.35 L1322.90,272.35 L1322.85,274.36 L1322.79,276.36 L1322.73,278.37 L1322.66,280.37 L1322.59,282.37 L1322.52,284.38 L1322.44,286.38 L1322.36,288.38 L1322.27,290.39 L1322.19,292.39 L1322.09,294.40 L1322.00,296.40 L1321.90,298.40 L1321.80,300.41 L1321.69,302.41 L1321.57,304.42 L1321.46,306.42 L1321.34,308.42 L1321.21,310.43 L1321.08,312.43 L1320.95,314.43 L1320.81,316.44 L1320.66,318.44 L1320.51,320.45 L1320.36,322.45 L1320.20,324.45 L1320.04,326.46 L1319.87,328.46 L1319.70,330.47 L1319.52,332.47 L1319.33,334.47 L1319.13,336.48 L1318.92,338.48 L1318.69,340.48 L1318.44,342.49 L1318.17,344.49 L1317.88,346.50 L1317.56,348.50 L1317.21,350.50 L1316.83,352.51 L1316.41,354.51 L1315.96,356.52 L1315.47,358.52 L1314.94,360.52 L1314.36,362.53 L1313.73,364.53 L1313.05,366.53 L1312.32,368.54 L1311.54,370.54 L1310.69,372.55 L1309.79,374.55 L1308.82,376.55 L1307.79,378.56 L1306.69,380.56 L1305.52,382.57 L1304.27,384.57 L1302.95,386.57 L1301.55,388.58 L1300.06,390.58 L1298.50,392.58 L1296.84,394.59 L1295.11,396.59 L1293.29,398.60 L1291.38,400.60 L1289.40,402.60 L1287.33,404.61 L1285.19,406.61 L1282.98,408.62 L1280.68,410.62 L1278.32,412.62 L1275.89,414.63 L1273.38,416.63 L1270.81,418.63 L1268.17,420.64 L1265.46,422.64 L1262.69,424.65 L1259.86,426.65 L1256.97,428.65 L1254.01,430.66 L1251.01,432.66 L1247.96,434.67 L1244.86,436.67 L1241.73,438.67 L1238.58,440.68 L1235.41,442.68 L1232.22,444.68 L1229.03,446.69 L1225.85,448.69 L1222.67,450.70 L1219.50,452.70 L1216.35,454.70 L1213.23,456.71 L1210.14,458.71 L1207.09,460.72 L1204.08,462.72 L1201.13,464.72 L1198.23,466.73 L1195.39,468.73 L1192.63,470.73 L1189.94,472.74 L1187.32,474.74 L1184.80,476.75 L1182.35,478.75 L1179.98,480.75 L1177.68,482.76 L1175.45,484.76 L1173.28,486.77 L1171.18,488.77 L1169.13,490.77 L1167.14,492.78 L1165.20,494.78 L1163.31,496.78 L1161.47,498.79 L1159.68,500.79 L1157.93,502.80 L1156.24,504.80 L1154.59,506.80 L1152.99,508.81 L1151.44,510.81 L1149.92,512.82 L1148.46,514.82 L1147.03,516.82 L1145.65,518.83 L1144.31,520.83 L1143.02,522.83 L1141.76,524.84 L1140.54,526.84 L1139.37,528.85 L1138.23,530.85 L1137.13,532.85 L1136.06,534.86 L1135.03,536.86 L1134.04,538.87 L1133.08,540.87 L1132.16,542.87 L1131.27,544.88 L1130.41,546.88 L1129.58,548.88 L1128.79,550.89 L1128.03,552.89 L1127.29,554.90 L1126.59,556.90 L1125.91,558.90 L1125.26,560.91 L1124.64,562.91 L1124.05,564.92 L1123.48,566.92 L1122.93,568.92 L1122.41,570.93 L1121.91,572.93 L1121.44,574.93 L1120.98,576.94 L1120.55,578.94 L1120.14,580.95 L1119.75,582.95 L1119.38,584.95 L1119.02,586.96 L1118.69,588.96 L1118.37,590.97 L1118.07,592.97 L1117.78,594.97 L1117.50,596.98 L1117.25,598.98 L1117.00,600.98 L1116.77,602.99 L1116.55,604.99 L1116.34,607.00 L1116.14,609.00 L1115.95,611.00 L1115.77,613.01 L1115.60,615.01 L1115.43,617.02 L1115.28,619.02 L1115.13,621.02 L1114.98,623.03 L1114.84,625.03 L1114.70,627.03 L1114.57,629.04 L1114.44,631.04 L1114.31,633.05 L1114.18,635.05 L1114.06,637.05 L1113.94,639.06 L1113.81,641.06 L1113.69,643.07 L1113.58,645.07 L1113.46,647.07 L1113.34,649.08 L1113.23,651.08 L1113.12,653.08 L1113.01,655.09 L1112.90,657.09 L1112.79,659.10 L1112.69,661.10 L1112.58,663.10 L1112.48,665.11 L1112.38,667.11 L1112.28,669.12 L1112.18,671.12 L1112.09,673.12 L1111.99,675.13 L1111.90,677.13 L1111.81,679.13 L1111.72,681.14 L1111.63,683.14 L1111.54,685.15 L1111.45,687.15 L1111.37,689.15 L1111.28,691.16 L1111.20,693.16 L1111.12,695.17 L1111.04,697.17 L1110.96,699.17 L1110.89,701.18 L1110.81,703.18 L1110.74,705.18 L1110.66,707.19 L1110.59,709.19 L1110.52,711.20 L1110.45,713.20 L1110.38,715.20 L1110.32,717.21 L1110.25,719.21 L1110.19,721.22 L1110.12,723.22 L1110.06,725.22 L1110.00,727.23 L1109.94,729.23 L1109.88,731.23 L1109.82,733.24 L1109.77,735.24 L1109.71,737.25 L1109.66,739.25 L1109.60,741.25 L1109.55,743.26 L1109.50,745.26 L1109.45,747.27 L1109.40,749.27 L1109.35,751.27 L1109.30,753.28 L1109.26,755.28 L1109.21,757.28 L1109.16,759.29 L1109.12,761.29 L1109.08,763.30 L1109.04,765.30 L1108.99,767.30 L1108.95,769.31 L1108.91,771.31 L1108.88,773.32 L1108.84,775.32 L1108.80,777.32 L1108.76,779.33 L1108.73,781.33 L1108.69,783.33 L1108.66,785.34 L1108.63,787.34 L1108.59,789.35 L1108.56,791.35 L1108.53,793.35 L1108.50,795.36 L1108.47,797.36 L1108.44,799.37 L1108.41,801.37 L1108.39,803.37 L1108.36,805.38 L1108.33,807.38 L1108.31,809.38 L1108.28,811.39 L1108.26,813.39 L1108.23,815.40 L1108.21,817.40 L1108.18,819.40 L1108.16,821.41 L1108.14,823.41 L1108.12,825.42 L1108.10,827.42 L1108.07,829.42 L1108.05,831.43 L1108.03,833.43 L1108.01,835.43 L1108.00,837.44 L1107.98,839.44 L1107.96,841.45 L1107.94,843.45 L1107.92,845.45 L1107.91,847.46 L1107.89,849.46 L1107.87,851.47 L1107.86,853.47 L1107.84,855.47 L1107.82,857.48 L1107.81,859.48 L1107.79,861.48 L1107.78,863.49 L1107.76,865.49 L1107.75,867.50 L1107.73,869.50 L1107.72,871.50 L1107.71,873.51 L1107.69,875.51 L1107.68,877.52 L1107.66,879.52 L1107.65,881.52 L1107.64,883.53 L1107.62,885.53 L1107.61,887.53 L1107.60,889.54 L1107.58,891.54 L1107.57,893.55 L1107.56,895.55 L1107.54,897.55 L1107.53,899.56 L1107.52,901.56 L1107.51,903.57 L1107.49,905.57 L1107.48,907.57 L1107.47,909.58 L1107.45,911.58 L1107.44,913.58 L1107.42,915.59 L1107.41,917.59 L1107.40,919.60 L1107.38,921.60 L1107.37,923.60 L1107.35,925.61 L1107.34,927.61 L1107.33,929.62 L1107.31,931.62 L1107.30,933.62 L1107.28,935.63 L1107.26,937.63 L1107.25,939.63 L1107.23,941.64 L1107.22,943.64 L1107.20,945.65 L1107.18,947.65 L1107.16,949.65 L1107.15,951.66 L1107.13,953.66 L1107.11,955.67 L1107.09,957.67 L1107.07,959.67 L1107.05,961.68 L1107.03,963.68 L1107.01,965.68 L1106.99,967.69 L1106.97,969.69 L1106.95,971.70 L1106.92,973.70" fill="none" stroke="#000" stroke-width="5" stroke-linejoin="round" />
<path d="M1430.50,88.00 C1430.33,89.83 1429.92,93.83 1429.50,99.00 C1429.08,104.17 1428.53,112.17 1428.00,119.00 C1427.47,125.83 1426.98,133.00 1426.30,140.00 C1425.62,147.00 1424.82,154.17 1423.90,161.00 C1422.98,167.83 1422.03,174.33 1420.80,181.00 C1419.57,187.67 1418.22,194.33 1416.50,201.00 C1414.78,207.67 1412.83,214.50 1410.50,221.00 C1408.17,227.50 1405.58,233.83 1402.50,240.00 C1399.42,246.17 1395.92,252.27 1392.00,258.00 C1388.08,263.73 1383.67,269.30 1379.00,274.40 C1374.33,279.50 1369.23,284.12 1364.00,288.60 C1358.77,293.08 1353.10,297.28 1347.60,301.30 C1342.10,305.32 1335.13,309.92 1331.00,312.70 C1326.87,315.48 1324.17,317.12 1322.80,318.00" fill="none" stroke="#000" stroke-width="4.8" stroke-linejoin="round" stroke-dasharray="20 21.4" />
<path d="M1280.20,343.40 C1278.78,344.30 1274.52,347.00 1271.70,348.80 C1268.88,350.60 1266.12,352.18 1263.30,354.20 C1260.48,356.22 1257.63,358.65 1254.80,360.90 C1251.97,363.15 1248.90,365.40 1246.30,367.70 C1243.70,370.00 1241.55,372.35 1239.20,374.70 C1236.85,377.05 1234.25,379.07 1232.20,381.80 C1230.15,384.53 1228.68,388.00 1226.90,391.10 C1225.12,394.20 1222.97,397.30 1221.50,400.40 C1220.03,403.50 1219.23,406.60 1218.10,409.70 C1216.97,412.80 1215.60,415.70 1214.70,419.00 C1213.80,422.30 1213.35,426.02 1212.70,429.50 C1212.05,432.98 1211.32,436.57 1210.80,439.90 C1210.28,443.23 1209.98,446.30 1209.60,449.50 C1209.22,452.70 1208.83,453.90 1208.50,459.10 C1208.17,464.30 1207.83,473.62 1207.60,480.70 C1207.37,487.78 1207.27,494.63 1207.10,501.60 C1206.93,508.57 1206.72,512.07 1206.60,522.50 C1206.48,532.93 1206.45,542.95 1206.40,564.20 C1206.35,585.45 1206.32,619.03 1206.30,650.00 C1206.28,680.97 1206.30,716.67 1206.30,750.00 C1206.30,783.33 1206.30,812.67 1206.30,850.00 C1206.30,887.33 1206.30,953.33 1206.30,974.00" fill="none" stroke="#000" stroke-width="4.8" stroke-linejoin="round" stroke-dasharray="20 21.4" />
</g>
<ellipse cx="839.1" cy="283.6" rx="59.5" ry="30.8" fill="#fff" stroke="#617532" stroke-width="8.5"/>
<ellipse cx="854.8" cy="286.1" rx="31" ry="16" fill="#cddeaa" stroke="#617532" stroke-width="3.5"/>
<path d="M902,283 C925,282 945,280 955,276 C960,272 958,268 965,266 C980,262 995,262 1013.6,262.8" fill="none" stroke="#617532" stroke-width="7.3"/>
<path d="M902,284 C925,285 945,288 953,294 C958,299 955,303 965,307 C980,312 995,313 1010.9,313.9" fill="none" stroke="#617532" stroke-width="7.3"/>
<path d="M110.0,974.0 L110.0,88.0 L463.6,88.0 M472,88.0 L481.4,88.0 L481.4,974.0 L110.0,974.0" fill="none" stroke="#000" stroke-width="1.8" stroke-linejoin="miter" stroke-linecap="butt"/>
<path d="M110.0,974.0 L481.4,974.0" stroke="#000" stroke-width="1.8"/>
<path d="M599.5,974.0 L599.5,88.0 L953.4,88.0 M961.5,88.0 L970.6,88.0 L970.6,974.0 L599.5,974.0" fill="none" stroke="#000" stroke-width="1.8" stroke-linejoin="miter" stroke-linecap="butt"/>
<path d="M599.5,974.0 L970.6,974.0" stroke="#000" stroke-width="1.8"/>
<rect x="1088.2" y="88.0" width="352.79999999999995" height="886.0" fill="none" stroke="#000" stroke-width="1.8"/>
<line x1="110.0" y1="214.57142857142856" x2="120.0" y2="214.57142857142856" stroke="#000" stroke-width="1.8"/>
<line x1="471.4" y1="214.57142857142856" x2="481.4" y2="214.57142857142856" stroke="#000" stroke-width="1.8"/>
<line x1="110.0" y1="341.1428571428571" x2="120.0" y2="341.1428571428571" stroke="#000" stroke-width="1.8"/>
<line x1="471.4" y1="341.1428571428571" x2="481.4" y2="341.1428571428571" stroke="#000" stroke-width="1.8"/>
<line x1="110.0" y1="467.7142857142857" x2="120.0" y2="467.7142857142857" stroke="#000" stroke-width="1.8"/>
<line x1="471.4" y1="467.7142857142857" x2="481.4" y2="467.7142857142857" stroke="#000" stroke-width="1.8"/>
<line x1="110.0" y1="594.2857142857142" x2="120.0" y2="594.2857142857142" stroke="#000" stroke-width="1.8"/>
<line x1="471.4" y1="594.2857142857142" x2="481.4" y2="594.2857142857142" stroke="#000" stroke-width="1.8"/>
<line x1="110.0" y1="720.8571428571429" x2="120.0" y2="720.8571428571429" stroke="#000" stroke-width="1.8"/>
<line x1="471.4" y1="720.8571428571429" x2="481.4" y2="720.8571428571429" stroke="#000" stroke-width="1.8"/>
<line x1="110.0" y1="847.4285714285714" x2="120.0" y2="847.4285714285714" stroke="#000" stroke-width="1.8"/>
<line x1="471.4" y1="847.4285714285714" x2="481.4" y2="847.4285714285714" stroke="#000" stroke-width="1.8"/>
<text x="0" y="0" transform="translate(98.5 98.2) scale(1 1.035)" font-size="29.3" font-weight="normal" text-anchor="end" fill="#000" >0</text>
<text x="0" y="0" transform="translate(98.5 224.77142857142854) scale(1 1.035)" font-size="29.3" font-weight="normal" text-anchor="end" fill="#000" >10</text>
<text x="0" y="0" transform="translate(98.5 351.3428571428571) scale(1 1.035)" font-size="29.3" font-weight="normal" text-anchor="end" fill="#000" >20</text>
<text x="0" y="0" transform="translate(98.5 477.9142857142857) scale(1 1.035)" font-size="29.3" font-weight="normal" text-anchor="end" fill="#000" >30</text>
<text x="0" y="0" transform="translate(98.5 604.4857142857143) scale(1 1.035)" font-size="29.3" font-weight="normal" text-anchor="end" fill="#000" >40</text>
<text x="0" y="0" transform="translate(98.5 731.0571428571429) scale(1 1.035)" font-size="29.3" font-weight="normal" text-anchor="end" fill="#000" >50</text>
<text x="0" y="0" transform="translate(98.5 857.6285714285715) scale(1 1.035)" font-size="29.3" font-weight="normal" text-anchor="end" fill="#000" >60</text>
<text x="0" y="0" transform="translate(98.5 984.2) scale(1 1.035)" font-size="29.3" font-weight="normal" text-anchor="end" fill="#000" >70</text>
<line x1="599.5" y1="214.57142857142856" x2="609.5" y2="214.57142857142856" stroke="#000" stroke-width="1.8"/>
<line x1="960.6" y1="214.57142857142856" x2="970.6" y2="214.57142857142856" stroke="#000" stroke-width="1.8"/>
<line x1="599.5" y1="341.1428571428571" x2="609.5" y2="341.1428571428571" stroke="#000" stroke-width="1.8"/>
<line x1="960.6" y1="341.1428571428571" x2="970.6" y2="341.1428571428571" stroke="#000" stroke-width="1.8"/>
<line x1="599.5" y1="467.7142857142857" x2="609.5" y2="467.7142857142857" stroke="#000" stroke-width="1.8"/>
<line x1="960.6" y1="467.7142857142857" x2="970.6" y2="467.7142857142857" stroke="#000" stroke-width="1.8"/>
<line x1="599.5" y1="594.2857142857142" x2="609.5" y2="594.2857142857142" stroke="#000" stroke-width="1.8"/>
<line x1="960.6" y1="594.2857142857142" x2="970.6" y2="594.2857142857142" stroke="#000" stroke-width="1.8"/>
<line x1="599.5" y1="720.8571428571429" x2="609.5" y2="720.8571428571429" stroke="#000" stroke-width="1.8"/>
<line x1="960.6" y1="720.8571428571429" x2="970.6" y2="720.8571428571429" stroke="#000" stroke-width="1.8"/>
<line x1="599.5" y1="847.4285714285714" x2="609.5" y2="847.4285714285714" stroke="#000" stroke-width="1.8"/>
<line x1="960.6" y1="847.4285714285714" x2="970.6" y2="847.4285714285714" stroke="#000" stroke-width="1.8"/>
<text x="0" y="0" transform="translate(585.5 98.2) scale(1 1.035)" font-size="29.3" font-weight="normal" text-anchor="end" fill="#000" >0</text>
<text x="0" y="0" transform="translate(585.5 224.77142857142854) scale(1 1.035)" font-size="29.3" font-weight="normal" text-anchor="end" fill="#000" >10</text>
<text x="0" y="0" transform="translate(585.5 351.3428571428571) scale(1 1.035)" font-size="29.3" font-weight="normal" text-anchor="end" fill="#000" >20</text>
<text x="0" y="0" transform="translate(585.5 477.9142857142857) scale(1 1.035)" font-size="29.3" font-weight="normal" text-anchor="end" fill="#000" >30</text>
<text x="0" y="0" transform="translate(585.5 604.4857142857143) scale(1 1.035)" font-size="29.3" font-weight="normal" text-anchor="end" fill="#000" >40</text>
<text x="0" y="0" transform="translate(585.5 731.0571428571429) scale(1 1.035)" font-size="29.3" font-weight="normal" text-anchor="end" fill="#000" >50</text>
<text x="0" y="0" transform="translate(585.5 857.6285714285715) scale(1 1.035)" font-size="29.3" font-weight="normal" text-anchor="end" fill="#000" >60</text>
<text x="0" y="0" transform="translate(585.5 984.2) scale(1 1.035)" font-size="29.3" font-weight="normal" text-anchor="end" fill="#000" >70</text>
<line x1="1088.2" y1="214.57142857142856" x2="1098.2" y2="214.57142857142856" stroke="#000" stroke-width="1.8"/>
<line x1="1431.0" y1="214.57142857142856" x2="1441.0" y2="214.57142857142856" stroke="#000" stroke-width="1.8"/>
<line x1="1088.2" y1="341.1428571428571" x2="1098.2" y2="341.1428571428571" stroke="#000" stroke-width="1.8"/>
<line x1="1431.0" y1="341.1428571428571" x2="1441.0" y2="341.1428571428571" stroke="#000" stroke-width="1.8"/>
<line x1="1088.2" y1="467.7142857142857" x2="1098.2" y2="467.7142857142857" stroke="#000" stroke-width="1.8"/>
<line x1="1431.0" y1="467.7142857142857" x2="1441.0" y2="467.7142857142857" stroke="#000" stroke-width="1.8"/>
<line x1="1088.2" y1="594.2857142857142" x2="1098.2" y2="594.2857142857142" stroke="#000" stroke-width="1.8"/>
<line x1="1431.0" y1="594.2857142857142" x2="1441.0" y2="594.2857142857142" stroke="#000" stroke-width="1.8"/>
<line x1="1088.2" y1="720.8571428571429" x2="1098.2" y2="720.8571428571429" stroke="#000" stroke-width="1.8"/>
<line x1="1431.0" y1="720.8571428571429" x2="1441.0" y2="720.8571428571429" stroke="#000" stroke-width="1.8"/>
<line x1="1088.2" y1="847.4285714285714" x2="1098.2" y2="847.4285714285714" stroke="#000" stroke-width="1.8"/>
<line x1="1431.0" y1="847.4285714285714" x2="1441.0" y2="847.4285714285714" stroke="#000" stroke-width="1.8"/>
<text x="0" y="0" transform="translate(1076.7 98.2) scale(1 1.035)" font-size="29.3" font-weight="normal" text-anchor="end" fill="#000" >0</text>
<text x="0" y="0" transform="translate(1076.7 224.77142857142854) scale(1 1.035)" font-size="29.3" font-weight="normal" text-anchor="end" fill="#000" >10</text>
<text x="0" y="0" transform="translate(1076.7 351.3428571428571) scale(1 1.035)" font-size="29.3" font-weight="normal" text-anchor="end" fill="#000" >20</text>
<text x="0" y="0" transform="translate(1076.7 477.9142857142857) scale(1 1.035)" font-size="29.3" font-weight="normal" text-anchor="end" fill="#000" >30</text>
<text x="0" y="0" transform="translate(1076.7 604.4857142857143) scale(1 1.035)" font-size="29.3" font-weight="normal" text-anchor="end" fill="#000" >40</text>
<text x="0" y="0" transform="translate(1076.7 731.0571428571429) scale(1 1.035)" font-size="29.3" font-weight="normal" text-anchor="end" fill="#000" >50</text>
<text x="0" y="0" transform="translate(1076.7 857.6285714285715) scale(1 1.035)" font-size="29.3" font-weight="normal" text-anchor="end" fill="#000" >60</text>
<text x="0" y="0" transform="translate(1076.7 984.2) scale(1 1.035)" font-size="29.3" font-weight="normal" text-anchor="end" fill="#000" >70</text>
<g>
<path d="M262.50,407.00 C258.92,408.45 248.25,412.50 241.00,415.70 C233.75,418.90 227.42,422.03 219.00,426.20 C210.58,430.37 200.17,436.65 190.50,440.70 C180.83,444.75 167.00,448.12 161.00,450.50 C155.00,452.88 155.58,454.25 154.50,455.00 C153.95,456.67 153.17,458.60 151.20,465.00 C149.23,471.40 145.62,483.57 142.70,493.40 C139.78,503.23 136.07,514.90 133.70,524.00 C131.33,533.10 129.78,541.83 128.50,548.00 C127.22,554.17 126.17,557.83 126.00,561.00 C125.83,564.17 127.25,566.00 127.50,567.00 C129.58,567.25 132.92,570.17 140.00,568.50 C147.08,566.83 159.23,561.88 170.00,557.00 C180.77,552.12 194.93,544.95 204.60,539.20 C214.27,533.45 223.18,526.28 228.00,522.50 C232.82,518.72 232.58,517.50 233.50,516.50 C233.75,514.75 234.13,511.43 235.00,506.00 C235.87,500.57 237.53,489.23 238.70,483.90 C239.87,478.57 240.90,477.15 242.00,474.00 C243.10,470.85 243.47,470.67 245.30,465.00 C247.13,459.33 250.28,448.83 253.00,440.00 C255.72,431.17 260.02,417.50 261.60,412.00 C263.18,406.50 262.35,407.83 262.50,407.00 Z" fill="#e2eaf4" stroke="#6096c9" stroke-width="8.6" stroke-linejoin="round"/>
<path d="M157,455 L192,488" stroke="#6096c9" stroke-width="10" fill="none"/>
<path d="M190,487 L234,516" stroke="#6096c9" stroke-width="6" fill="none"/>
<path d="M195,495 L145,565" stroke="#6096c9" stroke-width="4.5" fill="none"/>
<path d="M200.8,492 L234.8,518.5" stroke="#2a5f94" stroke-width="7" fill="none"/>
<path d="M98.60,501.60 C98.00,503.32 96.22,508.62 95.00,511.90 C93.78,515.18 92.23,518.17 91.30,521.30 C90.37,524.43 89.62,527.57 89.40,530.70 C89.18,533.83 89.27,536.43 90.00,540.10 C90.73,543.77 92.33,548.83 93.80,552.70 C95.27,556.57 96.92,559.87 98.80,563.30 C100.68,566.73 103.22,570.68 105.10,573.30 C106.98,575.92 108.85,577.95 110.10,579.00 C111.35,580.05 111.35,580.02 112.60,579.60 C113.85,579.18 115.72,577.97 117.60,576.50 C119.48,575.03 121.82,572.68 123.90,570.80 C125.98,568.92 128.02,567.07 130.10,565.20 C132.18,563.33 134.30,561.58 136.40,559.60 C138.50,557.62 140.68,555.48 142.70,553.30 C144.72,551.12 146.70,548.97 148.50,546.50 C150.30,544.03 151.67,541.00 153.50,538.50 C155.33,536.00 157.28,533.67 159.50,531.50 C161.72,529.33 164.63,527.42 166.80,525.50 C168.97,523.58 170.63,522.08 172.50,520.00 C174.37,517.92 175.17,516.75 178.00,513.00 C180.83,509.25 187.58,500.08 189.50,497.50" stroke="#2a5f94" stroke-width="7.6" fill="none" stroke-linejoin="round"/>
</g>
<line x1="233.8" y1="974.0" x2="233.8" y2="964.0" stroke="#000" stroke-width="1.8"/>
<line x1="357.6" y1="974.0" x2="357.6" y2="964.0" stroke="#000" stroke-width="1.8"/>
<text x="0" y="0" transform="translate(110.0 1008) scale(1 1.035)" font-size="29.3" font-weight="normal" text-anchor="middle" fill="#000" >0</text>
<text x="0" y="0" transform="translate(233.8 1008) scale(1 1.035)" font-size="29.3" font-weight="normal" text-anchor="middle" fill="#000" >1</text>
<text x="0" y="0" transform="translate(357.6 1008) scale(1 1.035)" font-size="29.3" font-weight="normal" text-anchor="middle" fill="#000" >2</text>
<text x="0" y="0" transform="translate(481.3999999999999 1008) scale(1 1.035)" font-size="29.3" font-weight="normal" text-anchor="middle" fill="#000" >3</text>
<line x1="286.3" y1="88.0" x2="286.3" y2="98.0" stroke="#000" stroke-width="1.8"/>
<line x1="462.6" y1="88.0" x2="462.6" y2="98.0" stroke="#000" stroke-width="1.8"/>
<text x="0" y="0" transform="translate(110.0 74) scale(1 1.035)" font-size="29.3" font-weight="normal" text-anchor="middle" fill="#000" >0</text>
<text x="0" y="0" transform="translate(286.3 74) scale(1 1.035)" font-size="29.3" font-weight="normal" text-anchor="middle" fill="#000" >500</text>
<text x="0" y="0" transform="translate(462.6 74) scale(1 1.035)" font-size="29.3" font-weight="normal" text-anchor="middle" fill="#000" >1000</text>
<line x1="723.2" y1="974.0" x2="723.2" y2="964.0" stroke="#000" stroke-width="1.8"/>
<line x1="846.9" y1="974.0" x2="846.9" y2="964.0" stroke="#000" stroke-width="1.8"/>
<text x="0" y="0" transform="translate(599.5 1008) scale(1 1.035)" font-size="29.3" font-weight="normal" text-anchor="middle" fill="#000" >0</text>
<text x="0" y="0" transform="translate(723.2 1008) scale(1 1.035)" font-size="29.3" font-weight="normal" text-anchor="middle" fill="#000" >1</text>
<text x="0" y="0" transform="translate(846.9 1008) scale(1 1.035)" font-size="29.3" font-weight="normal" text-anchor="middle" fill="#000" >2</text>
<text x="0" y="0" transform="translate(970.6000000000001 1008) scale(1 1.035)" font-size="29.3" font-weight="normal" text-anchor="middle" fill="#000" >3</text>
<line x1="775.8" y1="88.0" x2="775.8" y2="98.0" stroke="#000" stroke-width="1.8"/>
<line x1="952.1" y1="88.0" x2="952.1" y2="98.0" stroke="#000" stroke-width="1.8"/>
<text x="0" y="0" transform="translate(599.5 74) scale(1 1.035)" font-size="29.3" font-weight="normal" text-anchor="middle" fill="#000" >0</text>
<text x="0" y="0" transform="translate(775.8 74) scale(1 1.035)" font-size="29.3" font-weight="normal" text-anchor="middle" fill="#000" >500</text>
<text x="0" y="0" transform="translate(952.1 74) scale(1 1.035)" font-size="29.3" font-weight="normal" text-anchor="middle" fill="#000" >1000</text>
<line x1="1205.8" y1="974.0" x2="1205.8" y2="964.0" stroke="#000" stroke-width="1.8"/>
<line x1="1205.8" y1="88.0" x2="1205.8" y2="98.0" stroke="#000" stroke-width="1.8"/>
<line x1="1323.4" y1="974.0" x2="1323.4" y2="964.0" stroke="#000" stroke-width="1.8"/>
<line x1="1323.4" y1="88.0" x2="1323.4" y2="98.0" stroke="#000" stroke-width="1.8"/>
<text x="0" y="0" transform="translate(1088.2 1008) scale(1 1.035)" font-size="29.3" font-weight="normal" text-anchor="middle" fill="#000" >&#8722;0.5</text>
<text x="0" y="0" transform="translate(1205.8 1008) scale(1 1.035)" font-size="29.3" font-weight="normal" text-anchor="middle" fill="#000" >0</text>
<text x="0" y="0" transform="translate(1323.4 1008) scale(1 1.035)" font-size="29.3" font-weight="normal" text-anchor="middle" fill="#000" >0.5</text>
<text x="0" y="0" transform="translate(1441.0 1008) scale(1 1.035)" font-size="29.3" font-weight="normal" text-anchor="middle" fill="#000" >1</text>
<text x="0" y="0" transform="translate(122.5 124) scale(1 1.035)" font-size="42" font-weight="bold" text-anchor="start" fill="#000" >a</text>
<text x="0" y="0" transform="translate(609.5 131) scale(1 1.035)" font-size="42" font-weight="bold" text-anchor="start" fill="#000" >b</text>
<text x="0" y="0" transform="translate(1099.5 124) scale(1 1.035)" font-size="42" font-weight="bold" text-anchor="start" fill="#000" >c</text>
<text x="0" y="0" transform="translate(22 531) rotate(-90) scale(1 1.035)" font-size="29.3" font-weight="normal" text-anchor="middle" fill="#000" >Depth (m)</text>
<text x="0" y="0" transform="translate(540.4 1056.9) scale(1 1.035)" font-size="29.3" font-weight="normal" text-anchor="middle" fill="#000" >Biomass (g C m<tspan font-size="19.5" dy="-12.3">&#8722;3</tspan><tspan dy="12.3">)</tspan></text>
<text x="0" y="0" transform="translate(1286.5 1060.2) scale(1 1.035)" font-size="29.3" font-weight="normal" text-anchor="middle" fill="#000" >Rate (per day)</text>
<text x="0" y="0" transform="translate(560 27) scale(1 1.035)" font-size="29.3" font-weight="normal" text-anchor="middle" fill="#000" >Light (<tspan font-family="Liberation Serif">&#956;</tspan>mol quanta m<tspan font-size="19.5" dy="-12.4">&#8722;2</tspan><tspan dy="12.4"> s</tspan><tspan font-size="19.5" dy="-12.4">&#8722;1</tspan><tspan dy="12.4">)</tspan></text>
<rect x="307.2" y="821.7" width="161.10000000000002" height="137.0" fill="#fff" stroke="#555" stroke-width="1"/>
<line x1="313.9" y1="846.4" x2="361.9" y2="846.4" stroke="#667b3e" stroke-width="4.8"/>
<text x="0" y="0" transform="translate(373.1 854.6) scale(1 1.035)" font-size="25" font-weight="normal" text-anchor="start" fill="#000" >Phyto.</text>
<line x1="313.9" y1="890.2" x2="361.9" y2="890.2" stroke="#3c5c89" stroke-width="4.8"/>
<text x="0" y="0" transform="translate(373.1 898.4000000000001) scale(1 1.035)" font-size="25" font-weight="normal" text-anchor="start" fill="#000" >Zoop.</text>
<line x1="313.9" y1="934" x2="361.9" y2="934" stroke="#000" stroke-width="4.8" stroke-dasharray="19.5 18.5"/>
<text x="0" y="0" transform="translate(373.1 942.2) scale(1 1.035)" font-size="25" font-weight="normal" text-anchor="start" fill="#000" >Light</text>
<rect x="803.3" y="821.7" width="161.4000000000001" height="136.79999999999995" fill="#fff" stroke="#555" stroke-width="1"/>
<line x1="809.6" y1="846.4" x2="857.9" y2="846.4" stroke="#667b3e" stroke-width="4.8"/>
<text x="0" y="0" transform="translate(868.7 854.6) scale(1 1.035)" font-size="25" font-weight="normal" text-anchor="start" fill="#000" >Phyto.</text>
<line x1="809.6" y1="890.2" x2="857.9" y2="890.2" stroke="#3c5c89" stroke-width="4.8"/>
<text x="0" y="0" transform="translate(868.7 898.4000000000001) scale(1 1.035)" font-size="25" font-weight="normal" text-anchor="start" fill="#000" >Zoop.</text>
<line x1="809.6" y1="934" x2="857.9" y2="934" stroke="#000" stroke-width="4.8" stroke-dasharray="19.5 18.5"/>
<text x="0" y="0" transform="translate(868.7 942.2) scale(1 1.035)" font-size="25" font-weight="normal" text-anchor="start" fill="#000" >Light</text>
<rect x="1112.2" y="872.8" width="301.5999999999999" height="92.90000000000009" fill="#fff" stroke="#555" stroke-width="1"/>
<line x1="1118.8" y1="897.1" x2="1165.7" y2="897.1" stroke="#000" stroke-width="4.8"/>
<text x="0" y="0" transform="translate(1179 905.3000000000001) scale(1 1.035)" font-size="25" font-weight="normal" text-anchor="start" fill="#000" >Phyto. growth</text>
<line x1="1118.8" y1="941.4" x2="1165.7" y2="941.4" stroke="#000" stroke-width="4.8" stroke-dasharray="19 18"/>
<text x="0" y="0" transform="translate(1179 949.6) scale(1 1.035)" font-size="25" font-weight="normal" text-anchor="start" fill="#000" >Grazing</text>
<defs>
<clipPath id="cd"><rect x="115.9" y="1128.8" width="548.7" height="376.0"/></clipPath>
<clipPath id="ce"><rect x="838.0" y="1128.8" width="550.8" height="376.0"/></clipPath>
</defs>
<g clip-path="url(#cd)">
<path d="M115.90,1355.80 C146.58,1337.27 262.42,1267.35 300.00,1244.60 C337.58,1221.85 332.73,1224.57 341.40,1219.30 C350.07,1214.03 348.57,1214.90 352.00,1213.00 C355.43,1211.10 358.60,1209.53 362.00,1207.90 C365.40,1206.27 369.63,1204.23 372.40,1203.20 C375.17,1202.17 376.72,1201.95 378.60,1201.70 C380.48,1201.45 381.63,1201.02 383.70,1201.70 C385.77,1202.38 388.58,1203.03 391.00,1205.80 C393.42,1208.57 395.78,1211.57 398.20,1218.30 C400.62,1225.03 403.08,1236.73 405.50,1246.20 C407.92,1255.67 411.50,1270.28 412.70,1275.10 L415.80,1274.70 L440.00,1265.80 L443.04,1264.61 L446.07,1263.43 L449.11,1262.26 L452.14,1261.10 L455.18,1259.95 L458.21,1258.81 L461.25,1257.69 L464.28,1256.57 L467.32,1255.46 L470.35,1254.36 L473.39,1253.27 L476.42,1252.18 L479.46,1251.11 L482.49,1250.04 L485.53,1248.98 L488.56,1247.93 L491.60,1246.88 L494.63,1245.84 L497.67,1244.81 L500.70,1243.78 L503.74,1242.76 L506.77,1241.74 L509.81,1240.72 L512.84,1239.72 L515.88,1238.71 L518.91,1237.71 L521.95,1236.72 L524.98,1235.72 L528.02,1234.73 L531.05,1233.74 L534.09,1232.76 L537.12,1231.77 L540.16,1230.79 L543.19,1229.81 L546.23,1228.83 L549.26,1227.85 L552.30,1226.88 L555.34,1225.90 L558.37,1224.92 L561.41,1223.94 L564.44,1222.96 L567.48,1221.98 L570.51,1221.00 L573.55,1220.02 L576.58,1219.03 L579.62,1218.04 L582.65,1217.05 L585.69,1216.06 L588.72,1215.06 L591.76,1214.06 L594.79,1213.05 L597.83,1212.05 L600.86,1211.03 L603.90,1210.01 L606.93,1208.99 L609.97,1207.96 L613.00,1206.93 L616.04,1205.89 L619.07,1204.84 L622.11,1203.78 L625.14,1202.72 L628.18,1201.65 L631.21,1200.58 L634.25,1199.49 L637.28,1198.40 L640.32,1197.30 L643.35,1196.19 L646.39,1195.07 L649.42,1193.94 L652.46,1192.80 L655.49,1191.65 L658.53,1190.49 L661.56,1189.32 L664.60,1188.14" fill="none" stroke="#576b31" stroke-width="6" stroke-linejoin="round"/>
<path d="M115.90,1501.20 C138.25,1501.20 214.32,1501.23 250.00,1501.20 C285.68,1501.17 313.05,1501.20 330.00,1501.00 C346.95,1500.80 345.33,1500.60 351.70,1500.00 C358.07,1499.40 363.03,1498.70 368.20,1497.40 C373.37,1496.10 378.90,1494.43 382.70,1492.20 C386.50,1489.97 388.23,1487.78 391.00,1484.00 C393.77,1480.22 396.88,1475.37 399.30,1469.50 C401.72,1463.63 403.43,1457.42 405.50,1448.80 C407.57,1440.18 410.33,1425.20 411.70,1417.80 C413.07,1410.40 412.62,1407.70 413.70,1404.40 C414.78,1401.10 416.82,1399.47 418.20,1398.00 C419.58,1396.53 420.47,1396.65 422.00,1395.60 C423.53,1394.55 426.50,1392.35 427.40,1391.70 L430.40,1390.03 L433.41,1389.09 L436.41,1388.14 L439.41,1387.20 L442.41,1386.26 L445.42,1385.31 L448.42,1384.37 L451.42,1383.43 L454.42,1382.49 L457.43,1381.54 L460.43,1380.60 L463.43,1379.66 L466.43,1378.72 L469.44,1377.78 L472.44,1376.84 L475.44,1375.90 L478.44,1374.96 L481.45,1374.02 L484.45,1373.08 L487.45,1372.14 L490.45,1371.20 L493.46,1370.26 L496.46,1369.32 L499.46,1368.39 L502.46,1367.45 L505.47,1366.51 L508.47,1365.58 L511.47,1364.64 L514.47,1363.70 L517.48,1362.77 L520.48,1361.83 L523.48,1360.90 L526.48,1359.97 L529.49,1359.03 L532.49,1358.10 L535.49,1357.17 L538.49,1356.24 L541.50,1355.30 L544.50,1354.37 L547.50,1353.44 L550.50,1352.51 L553.51,1351.58 L556.51,1350.66 L559.51,1349.73 L562.51,1348.80 L565.52,1347.87 L568.52,1346.95 L571.52,1346.02 L574.52,1345.10 L577.53,1344.17 L580.53,1343.25 L583.53,1342.33 L586.53,1341.41 L589.54,1340.49 L592.54,1339.57 L595.54,1338.65 L598.54,1337.74 L601.55,1336.82 L604.55,1335.91 L607.55,1335.00 L610.55,1334.09 L613.56,1333.18 L616.56,1332.28 L619.56,1331.38 L622.56,1330.48 L625.57,1329.58 L628.57,1328.68 L631.57,1327.79 L634.57,1326.90 L637.58,1326.01 L640.58,1325.12 L643.58,1324.24 L646.58,1323.36 L649.59,1322.48 L652.59,1321.61 L655.59,1320.74 L658.59,1319.87 L661.60,1319.00 L664.60,1318.14" fill="none" stroke="#2e4a79" stroke-width="6" stroke-linejoin="round"/>
</g>
<g clip-path="url(#ce)">
</g>
<path d="M115.9,1128.8 L664.6,1128.8 M115.9,1128.8 L115.9,1500.8 L664.6,1500.8" fill="none" stroke="#000" stroke-width="2" stroke-linecap="square"/>
<path d="M664.6,1128.8 L664.6,1500.8" fill="none" stroke="#000" stroke-width="2"/>
<line x1="170.95838620694218" y1="1500.8" x2="170.95838620694218" y2="1497.0" stroke="#000" stroke-width="2"/>
<line x1="170.95838620694218" y1="1128.8" x2="170.95838620694218" y2="1132.6" stroke="#000" stroke-width="2"/>
<line x1="203.16547748822626" y1="1500.8" x2="203.16547748822626" y2="1497.0" stroke="#000" stroke-width="2"/>
<line x1="203.16547748822626" y1="1128.8" x2="203.16547748822626" y2="1132.6" stroke="#000" stroke-width="2"/>
<line x1="226.01677241388435" y1="1500.8" x2="226.01677241388435" y2="1497.0" stroke="#000" stroke-width="2"/>
<line x1="226.01677241388435" y1="1128.8" x2="226.01677241388435" y2="1132.6" stroke="#000" stroke-width="2"/>
<line x1="243.74161379305784" y1="1500.8" x2="243.74161379305784" y2="1497.0" stroke="#000" stroke-width="2"/>
<line x1="243.74161379305784" y1="1128.8" x2="243.74161379305784" y2="1132.6" stroke="#000" stroke-width="2"/>
<line x1="258.22386369516846" y1="1500.8" x2="258.22386369516846" y2="1497.0" stroke="#000" stroke-width="2"/>
<line x1="258.22386369516846" y1="1128.8" x2="258.22386369516846" y2="1132.6" stroke="#000" stroke-width="2"/>
<line x1="270.46843151860764" y1="1500.8" x2="270.46843151860764" y2="1497.0" stroke="#000" stroke-width="2"/>
<line x1="270.46843151860764" y1="1128.8" x2="270.46843151860764" y2="1132.6" stroke="#000" stroke-width="2"/>
<line x1="281.0751586208265" y1="1500.8" x2="281.0751586208265" y2="1497.0" stroke="#000" stroke-width="2"/>
<line x1="281.0751586208265" y1="1128.8" x2="281.0751586208265" y2="1132.6" stroke="#000" stroke-width="2"/>
<line x1="290.43095497645254" y1="1500.8" x2="290.43095497645254" y2="1497.0" stroke="#000" stroke-width="2"/>
<line x1="290.43095497645254" y1="1128.8" x2="290.43095497645254" y2="1132.6" stroke="#000" stroke-width="2"/>
<line x1="298.8" y1="1500.8" x2="298.8" y2="1494.3" stroke="#000" stroke-width="2"/>
<line x1="298.8" y1="1128.8" x2="298.8" y2="1135.3" stroke="#000" stroke-width="2"/>
<line x1="353.8583862069422" y1="1500.8" x2="353.8583862069422" y2="1497.0" stroke="#000" stroke-width="2"/>
<line x1="353.8583862069422" y1="1128.8" x2="353.8583862069422" y2="1132.6" stroke="#000" stroke-width="2"/>
<line x1="386.0654774882263" y1="1500.8" x2="386.0654774882263" y2="1497.0" stroke="#000" stroke-width="2"/>
<line x1="386.0654774882263" y1="1128.8" x2="386.0654774882263" y2="1132.6" stroke="#000" stroke-width="2"/>
<line x1="408.91677241388436" y1="1500.8" x2="408.91677241388436" y2="1497.0" stroke="#000" stroke-width="2"/>
<line x1="408.91677241388436" y1="1128.8" x2="408.91677241388436" y2="1132.6" stroke="#000" stroke-width="2"/>
<line x1="426.6416137930579" y1="1500.8" x2="426.6416137930579" y2="1497.0" stroke="#000" stroke-width="2"/>
<line x1="426.6416137930579" y1="1128.8" x2="426.6416137930579" y2="1132.6" stroke="#000" stroke-width="2"/>
<line x1="441.12386369516844" y1="1500.8" x2="441.12386369516844" y2="1497.0" stroke="#000" stroke-width="2"/>
<line x1="441.12386369516844" y1="1128.8" x2="441.12386369516844" y2="1132.6" stroke="#000" stroke-width="2"/>
<line x1="453.3684315186076" y1="1500.8" x2="453.3684315186076" y2="1497.0" stroke="#000" stroke-width="2"/>
<line x1="453.3684315186076" y1="1128.8" x2="453.3684315186076" y2="1132.6" stroke="#000" stroke-width="2"/>
<line x1="463.9751586208266" y1="1500.8" x2="463.9751586208266" y2="1497.0" stroke="#000" stroke-width="2"/>
<line x1="463.9751586208266" y1="1128.8" x2="463.9751586208266" y2="1132.6" stroke="#000" stroke-width="2"/>
<line x1="473.3309549764525" y1="1500.8" x2="473.3309549764525" y2="1497.0" stroke="#000" stroke-width="2"/>
<line x1="473.3309549764525" y1="1128.8" x2="473.3309549764525" y2="1132.6" stroke="#000" stroke-width="2"/>
<line x1="481.70000000000005" y1="1500.8" x2="481.70000000000005" y2="1494.3" stroke="#000" stroke-width="2"/>
<line x1="481.70000000000005" y1="1128.8" x2="481.70000000000005" y2="1135.3" stroke="#000" stroke-width="2"/>
<line x1="536.7583862069422" y1="1500.8" x2="536.7583862069422" y2="1497.0" stroke="#000" stroke-width="2"/>
<line x1="536.7583862069422" y1="1128.8" x2="536.7583862069422" y2="1132.6" stroke="#000" stroke-width="2"/>
<line x1="568.9654774882264" y1="1500.8" x2="568.9654774882264" y2="1497.0" stroke="#000" stroke-width="2"/>
<line x1="568.9654774882264" y1="1128.8" x2="568.9654774882264" y2="1132.6" stroke="#000" stroke-width="2"/>
<line x1="591.8167724138845" y1="1500.8" x2="591.8167724138845" y2="1497.0" stroke="#000" stroke-width="2"/>
<line x1="591.8167724138845" y1="1128.8" x2="591.8167724138845" y2="1132.6" stroke="#000" stroke-width="2"/>
<line x1="609.5416137930579" y1="1500.8" x2="609.5416137930579" y2="1497.0" stroke="#000" stroke-width="2"/>
<line x1="609.5416137930579" y1="1128.8" x2="609.5416137930579" y2="1132.6" stroke="#000" stroke-width="2"/>
<line x1="624.0238636951685" y1="1500.8" x2="624.0238636951685" y2="1497.0" stroke="#000" stroke-width="2"/>
<line x1="624.0238636951685" y1="1128.8" x2="624.0238636951685" y2="1132.6" stroke="#000" stroke-width="2"/>
<line x1="636.2684315186076" y1="1500.8" x2="636.2684315186076" y2="1497.0" stroke="#000" stroke-width="2"/>
<line x1="636.2684315186076" y1="1128.8" x2="636.2684315186076" y2="1132.6" stroke="#000" stroke-width="2"/>
<line x1="646.8751586208266" y1="1500.8" x2="646.8751586208266" y2="1497.0" stroke="#000" stroke-width="2"/>
<line x1="646.8751586208266" y1="1128.8" x2="646.8751586208266" y2="1132.6" stroke="#000" stroke-width="2"/>
<line x1="656.2309549764525" y1="1500.8" x2="656.2309549764525" y2="1497.0" stroke="#000" stroke-width="2"/>
<line x1="656.2309549764525" y1="1128.8" x2="656.2309549764525" y2="1132.6" stroke="#000" stroke-width="2"/>
<text x="0" y="0" transform="translate(94.4 1540.5) scale(1 1.035)" font-size="28">10<tspan font-size="20.5" dy="-12.3">1</tspan></text>
<text x="0" y="0" transform="translate(277.3 1540.5) scale(1 1.035)" font-size="28">10<tspan font-size="20.5" dy="-12.3">2</tspan></text>
<text x="0" y="0" transform="translate(460.20000000000005 1540.5) scale(1 1.035)" font-size="28">10<tspan font-size="20.5" dy="-12.3">3</tspan></text>
<text x="0" y="0" transform="translate(643.1 1540.5) scale(1 1.035)" font-size="28">10<tspan font-size="20.5" dy="-12.3">4</tspan></text>
<path d="M1380.3,1128.8 L838.0,1128.8 L838.0,1500.8 L1386.8,1500.8" fill="none" stroke="#000" stroke-width="2" stroke-linecap="square"/>
<path d="M1380.3,1128.8 L1386.8,1128.8 L1386.8,1500.8" fill="none" stroke="#576b31" stroke-width="2" stroke-linecap="square"/>
<line x1="893.068420540131" y1="1500.8" x2="893.068420540131" y2="1497.0" stroke="#000" stroke-width="2"/>
<line x1="893.068420540131" y1="1128.8" x2="893.068420540131" y2="1132.6" stroke="#000" stroke-width="2"/>
<line x1="925.2813815300502" y1="1500.8" x2="925.2813815300502" y2="1497.0" stroke="#000" stroke-width="2"/>
<line x1="925.2813815300502" y1="1128.8" x2="925.2813815300502" y2="1132.6" stroke="#000" stroke-width="2"/>
<line x1="948.1368410802619" y1="1500.8" x2="948.1368410802619" y2="1497.0" stroke="#000" stroke-width="2"/>
<line x1="948.1368410802619" y1="1128.8" x2="948.1368410802619" y2="1132.6" stroke="#000" stroke-width="2"/>
<line x1="965.8649127932024" y1="1500.8" x2="965.8649127932024" y2="1497.0" stroke="#000" stroke-width="2"/>
<line x1="965.8649127932024" y1="1128.8" x2="965.8649127932024" y2="1132.6" stroke="#000" stroke-width="2"/>
<line x1="980.3498020701812" y1="1500.8" x2="980.3498020701812" y2="1497.0" stroke="#000" stroke-width="2"/>
<line x1="980.3498020701812" y1="1128.8" x2="980.3498020701812" y2="1132.6" stroke="#000" stroke-width="2"/>
<line x1="992.5966014532747" y1="1500.8" x2="992.5966014532747" y2="1497.0" stroke="#000" stroke-width="2"/>
<line x1="992.5966014532747" y1="1128.8" x2="992.5966014532747" y2="1132.6" stroke="#000" stroke-width="2"/>
<line x1="1003.2052616203929" y1="1500.8" x2="1003.2052616203929" y2="1497.0" stroke="#000" stroke-width="2"/>
<line x1="1003.2052616203929" y1="1128.8" x2="1003.2052616203929" y2="1132.6" stroke="#000" stroke-width="2"/>
<line x1="1012.5627630601005" y1="1500.8" x2="1012.5627630601005" y2="1497.0" stroke="#000" stroke-width="2"/>
<line x1="1012.5627630601005" y1="1128.8" x2="1012.5627630601005" y2="1132.6" stroke="#000" stroke-width="2"/>
<line x1="1020.9333333333333" y1="1500.8" x2="1020.9333333333333" y2="1494.3" stroke="#000" stroke-width="2"/>
<line x1="1020.9333333333333" y1="1128.8" x2="1020.9333333333333" y2="1135.3" stroke="#000" stroke-width="2"/>
<line x1="1076.0017538734642" y1="1500.8" x2="1076.0017538734642" y2="1497.0" stroke="#000" stroke-width="2"/>
<line x1="1076.0017538734642" y1="1128.8" x2="1076.0017538734642" y2="1132.6" stroke="#000" stroke-width="2"/>
<line x1="1108.2147148633835" y1="1500.8" x2="1108.2147148633835" y2="1497.0" stroke="#000" stroke-width="2"/>
<line x1="1108.2147148633835" y1="1128.8" x2="1108.2147148633835" y2="1132.6" stroke="#000" stroke-width="2"/>
<line x1="1131.0701744135952" y1="1500.8" x2="1131.0701744135952" y2="1497.0" stroke="#000" stroke-width="2"/>
<line x1="1131.0701744135952" y1="1128.8" x2="1131.0701744135952" y2="1132.6" stroke="#000" stroke-width="2"/>
<line x1="1148.7982461265356" y1="1500.8" x2="1148.7982461265356" y2="1497.0" stroke="#000" stroke-width="2"/>
<line x1="1148.7982461265356" y1="1128.8" x2="1148.7982461265356" y2="1132.6" stroke="#000" stroke-width="2"/>
<line x1="1163.2831354035145" y1="1500.8" x2="1163.2831354035145" y2="1497.0" stroke="#000" stroke-width="2"/>
<line x1="1163.2831354035145" y1="1128.8" x2="1163.2831354035145" y2="1132.6" stroke="#000" stroke-width="2"/>
<line x1="1175.529934786608" y1="1500.8" x2="1175.529934786608" y2="1497.0" stroke="#000" stroke-width="2"/>
<line x1="1175.529934786608" y1="1128.8" x2="1175.529934786608" y2="1132.6" stroke="#000" stroke-width="2"/>
<line x1="1186.1385949537262" y1="1500.8" x2="1186.1385949537262" y2="1497.0" stroke="#000" stroke-width="2"/>
<line x1="1186.1385949537262" y1="1128.8" x2="1186.1385949537262" y2="1132.6" stroke="#000" stroke-width="2"/>
<line x1="1195.4960963934338" y1="1500.8" x2="1195.4960963934338" y2="1497.0" stroke="#000" stroke-width="2"/>
<line x1="1195.4960963934338" y1="1128.8" x2="1195.4960963934338" y2="1132.6" stroke="#000" stroke-width="2"/>
<line x1="1203.8666666666666" y1="1500.8" x2="1203.8666666666666" y2="1494.3" stroke="#000" stroke-width="2"/>
<line x1="1203.8666666666666" y1="1128.8" x2="1203.8666666666666" y2="1135.3" stroke="#000" stroke-width="2"/>
<line x1="1258.9350872067976" y1="1500.8" x2="1258.9350872067976" y2="1497.0" stroke="#000" stroke-width="2"/>
<line x1="1258.9350872067976" y1="1128.8" x2="1258.9350872067976" y2="1132.6" stroke="#000" stroke-width="2"/>
<line x1="1291.148048196717" y1="1500.8" x2="1291.148048196717" y2="1497.0" stroke="#000" stroke-width="2"/>
<line x1="1291.148048196717" y1="1128.8" x2="1291.148048196717" y2="1132.6" stroke="#000" stroke-width="2"/>
<line x1="1314.0035077469286" y1="1500.8" x2="1314.0035077469286" y2="1497.0" stroke="#000" stroke-width="2"/>
<line x1="1314.0035077469286" y1="1128.8" x2="1314.0035077469286" y2="1132.6" stroke="#000" stroke-width="2"/>
<line x1="1331.731579459869" y1="1500.8" x2="1331.731579459869" y2="1497.0" stroke="#000" stroke-width="2"/>
<line x1="1331.731579459869" y1="1128.8" x2="1331.731579459869" y2="1132.6" stroke="#000" stroke-width="2"/>
<line x1="1346.216468736848" y1="1500.8" x2="1346.216468736848" y2="1497.0" stroke="#000" stroke-width="2"/>
<line x1="1346.216468736848" y1="1128.8" x2="1346.216468736848" y2="1132.6" stroke="#000" stroke-width="2"/>
<line x1="1358.4632681199414" y1="1500.8" x2="1358.4632681199414" y2="1497.0" stroke="#000" stroke-width="2"/>
<line x1="1358.4632681199414" y1="1128.8" x2="1358.4632681199414" y2="1132.6" stroke="#000" stroke-width="2"/>
<line x1="1369.0719282870596" y1="1500.8" x2="1369.0719282870596" y2="1497.0" stroke="#000" stroke-width="2"/>
<line x1="1369.0719282870596" y1="1128.8" x2="1369.0719282870596" y2="1132.6" stroke="#000" stroke-width="2"/>
<line x1="1378.429429726767" y1="1500.8" x2="1378.429429726767" y2="1497.0" stroke="#000" stroke-width="2"/>
<line x1="1378.429429726767" y1="1128.8" x2="1378.429429726767" y2="1132.6" stroke="#000" stroke-width="2"/>
<text x="0" y="0" transform="translate(816.5 1540.5) scale(1 1.035)" font-size="28">10<tspan font-size="20.5" dy="-12.3">1</tspan></text>
<text x="0" y="0" transform="translate(999.4333333333333 1540.5) scale(1 1.035)" font-size="28">10<tspan font-size="20.5" dy="-12.3">2</tspan></text>
<text x="0" y="0" transform="translate(1182.3666666666666 1540.5) scale(1 1.035)" font-size="28">10<tspan font-size="20.5" dy="-12.3">3</tspan></text>
<text x="0" y="0" transform="translate(1365.3 1540.5) scale(1 1.035)" font-size="28">10<tspan font-size="20.5" dy="-12.3">4</tspan></text>
<g clip-path="url(#ce)">
<path d="M838.00,1500.80 L1120.00,1500.80 L1127.60,1492.10 L1130.70,1479.50 L1133.90,1460.70 L1137.60,1448.20 L1142.00,1439.50 L1146.40,1435.70 L1152.70,1429.20 L1158.90,1424.50 L1163.40,1419.80 L1172.20,1416.30 L1186.20,1404.00 L1195.00,1400.50 L1202.00,1394.30 L1209.90,1390.80 L1217.00,1384.70 L1224.90,1381.20 L1237.20,1369.70 L1246.00,1366.20 L1267.00,1347.80 L1275.80,1344.30 L1296.90,1326.70 L1305.70,1315.30 L1319.70,1303.90 L1340.80,1277.50 L1347.80,1264.30 L1356.60,1247.60 L1365.40,1232.70 L1370.70,1220.40 L1377.70,1208.10 L1388.00,1196.00" fill="none" stroke="#000" stroke-width="6" stroke-linejoin="round" />
<path d="M838.10,1417.30 L1053.00,1218.70 L1073.30,1202.40 L1085.40,1193.30 L1093.50,1190.30 L1098.60,1189.30 L1105.70,1193.30 L1112.80,1207.50 L1119.90,1247.00 L1123.90,1301.80 L1128.00,1372.70 L1130.60,1400.00 L1133.20,1420.00 L1133.90,1438.80 L1135.10,1455.10 L1140.10,1460.10 L1143.30,1463.20 L1149.50,1464.67 L1152.52,1464.25 L1155.54,1463.83 L1158.56,1463.41 L1161.58,1463.00 L1164.59,1462.59 L1167.61,1462.18 L1170.63,1461.77 L1173.65,1461.37 L1176.67,1460.97 L1179.69,1460.57 L1182.71,1460.18 L1185.73,1459.79 L1188.75,1459.40 L1191.77,1459.02 L1194.78,1458.64 L1197.80,1458.27 L1200.82,1457.90 L1203.84,1457.54 L1206.86,1457.18 L1209.88,1456.82 L1212.90,1456.48 L1215.92,1456.13 L1218.94,1455.79 L1221.96,1455.46 L1224.97,1455.14 L1227.99,1454.82 L1231.01,1454.51 L1234.03,1454.20 L1237.05,1453.90 L1240.07,1453.61 L1243.09,1453.32 L1246.11,1453.05 L1249.13,1452.78 L1252.15,1452.52 L1255.16,1452.26 L1258.18,1452.02 L1261.20,1451.78 L1264.22,1451.55 L1267.24,1451.33 L1270.26,1451.12 L1273.28,1450.91 L1276.30,1450.72 L1279.32,1450.53 L1282.34,1450.35 L1285.35,1450.18 L1288.37,1450.01 L1291.39,1449.86 L1294.41,1449.71 L1297.43,1449.57 L1300.45,1449.43 L1303.47,1449.31 L1306.49,1449.19 L1309.51,1449.08 L1312.53,1448.97 L1315.54,1448.87 L1318.56,1448.78 L1321.58,1448.69 L1324.60,1448.62 L1327.62,1448.54 L1330.64,1448.48 L1333.66,1448.42 L1336.68,1448.36 L1339.70,1448.31 L1342.72,1448.27 L1345.73,1448.23 L1348.75,1448.20 L1351.77,1448.17 L1354.79,1448.15 L1357.81,1448.14 L1360.83,1448.12 L1363.85,1448.12 L1366.87,1448.12 L1369.89,1448.12 L1372.91,1448.13 L1375.92,1448.14 L1378.94,1448.16 L1381.96,1448.18 L1384.98,1448.20 L1388.00,1448.23" fill="none" stroke="#576b31" stroke-width="6" stroke-linejoin="round" />
</g>
<line x1="115.9" y1="1314.8" x2="122.4" y2="1314.8" stroke="#000" stroke-width="2"/>
<line x1="658.1" y1="1314.8" x2="664.6" y2="1314.8" stroke="#000" stroke-width="2"/>
<text x="0" y="0" transform="translate(104 1511.0) scale(1 1.035)" font-size="29.3" font-weight="normal" text-anchor="end" fill="#000" >0</text>
<text x="0" y="0" transform="translate(104 1325.0) scale(1 1.035)" font-size="29.3" font-weight="normal" text-anchor="end" fill="#000" >50</text>
<text x="0" y="0" transform="translate(104 1139.0) scale(1 1.035)" font-size="29.3" font-weight="normal" text-anchor="end" fill="#000" >100</text>
<line x1="838.0" y1="1407.8" x2="844.5" y2="1407.8" stroke="#000" stroke-width="2"/>
<line x1="1380.3" y1="1407.8" x2="1386.8" y2="1407.8" stroke="#576b31" stroke-width="2"/>
<line x1="838.0" y1="1314.8" x2="844.5" y2="1314.8" stroke="#000" stroke-width="2"/>
<line x1="1380.3" y1="1314.8" x2="1386.8" y2="1314.8" stroke="#576b31" stroke-width="2"/>
<line x1="838.0" y1="1221.8" x2="844.5" y2="1221.8" stroke="#000" stroke-width="2"/>
<line x1="1380.3" y1="1221.8" x2="1386.8" y2="1221.8" stroke="#576b31" stroke-width="2"/>
<text x="0" y="0" transform="translate(827.5 1511.0) scale(1 1.035)" font-size="29.3" font-weight="normal" text-anchor="end" fill="#000" >0</text>
<text x="0" y="0" transform="translate(827.5 1418.0) scale(1 1.035)" font-size="29.3" font-weight="normal" text-anchor="end" fill="#000" >20</text>
<text x="0" y="0" transform="translate(827.5 1325.0) scale(1 1.035)" font-size="29.3" font-weight="normal" text-anchor="end" fill="#000" >40</text>
<text x="0" y="0" transform="translate(827.5 1232.0) scale(1 1.035)" font-size="29.3" font-weight="normal" text-anchor="end" fill="#000" >60</text>
<text x="0" y="0" transform="translate(827.5 1139.0) scale(1 1.035)" font-size="29.3" font-weight="normal" text-anchor="end" fill="#000" >80</text>
<text x="0" y="0" transform="translate(1398.5 1511.0) scale(1 1.035)" font-size="29.3" font-weight="normal" text-anchor="start" fill="#576b31" >2</text>
<text x="0" y="0" transform="translate(1398.5 1418.0) scale(1 1.035)" font-size="29.3" font-weight="normal" text-anchor="start" fill="#576b31" >4</text>
<text x="0" y="0" transform="translate(1398.5 1325.0) scale(1 1.035)" font-size="29.3" font-weight="normal" text-anchor="start" fill="#576b31" >6</text>
<text x="0" y="0" transform="translate(1398.5 1232.0) scale(1 1.035)" font-size="29.3" font-weight="normal" text-anchor="start" fill="#576b31" >8</text>
<text x="0" y="0" transform="translate(1398.5 1139.0) scale(1 1.035)" font-size="29.3" font-weight="normal" text-anchor="start" fill="#576b31" >10</text>
<rect x="490.5" y="1388" width="160.89999999999998" height="100.79999999999995" fill="#fff" stroke="#555" stroke-width="1"/>
<line x1="501.4" y1="1413" x2="547.8" y2="1413" stroke="#667b3e" stroke-width="4.8"/>
<text x="0" y="0" transform="translate(560.5 1421.2) scale(1 1.035)" font-size="25" font-weight="normal" text-anchor="start" fill="#000" >Phyto.</text>
<line x1="501.4" y1="1456.6" x2="547.8" y2="1456.6" stroke="#3c5c89" stroke-width="4.8"/>
<text x="0" y="0" transform="translate(560.5 1464.8) scale(1 1.035)" font-size="25" font-weight="normal" text-anchor="start" fill="#000" >Zoop.</text>
<text x="0" y="0" transform="translate(127.5 1171.5) scale(1 1.035)" font-size="42" font-weight="bold" text-anchor="start" fill="#000" >d</text>
<text x="0" y="0" transform="translate(848 1171.5) scale(1 1.035)" font-size="42" font-weight="bold" text-anchor="start" fill="#000" >e</text>
<text x="0" y="0" transform="translate(390 1589.2) scale(1 1.035)" font-size="29.3" font-weight="normal" text-anchor="middle" fill="#000" >Surface light (<tspan font-family="Liberation Serif">&#956;</tspan>mol quanta m<tspan font-size="19.5" dy="-12.4">&#8722;2</tspan><tspan dy="12.4"> s</tspan><tspan font-size="19.5" dy="-12.4">&#8722;1</tspan><tspan dy="12.4">)</tspan></text>
<text x="0" y="0" transform="translate(1112 1589.2) scale(1 1.035)" font-size="29.3" font-weight="normal" text-anchor="middle" fill="#000" >Surface light (<tspan font-family="Liberation Serif">&#956;</tspan>mol quanta m<tspan font-size="19.5" dy="-12.4">&#8722;2</tspan><tspan dy="12.4"> s</tspan><tspan font-size="19.5" dy="-12.4">&#8722;1</tspan><tspan dy="12.4">)</tspan></text>
<text x="0" y="0" transform="translate(35 1314.7) rotate(-90) scale(1 1.035)" font-size="29.3" font-weight="normal" text-anchor="middle" fill="#000" >Total biomass</text>
<text x="0" y="0" transform="translate(767.8 1314.5) rotate(-90) scale(1 1.035)" font-size="29.3" font-weight="normal" text-anchor="middle" fill="#000" >DCM Depth (m)</text>
<text x="0" y="0" transform="translate(1457.6 1315.2) rotate(90) scale(1 1.035)" font-size="29.3" font-weight="normal" text-anchor="middle" fill="#576b31" >Phyto. at DCM</text>
</svg></body></html>
